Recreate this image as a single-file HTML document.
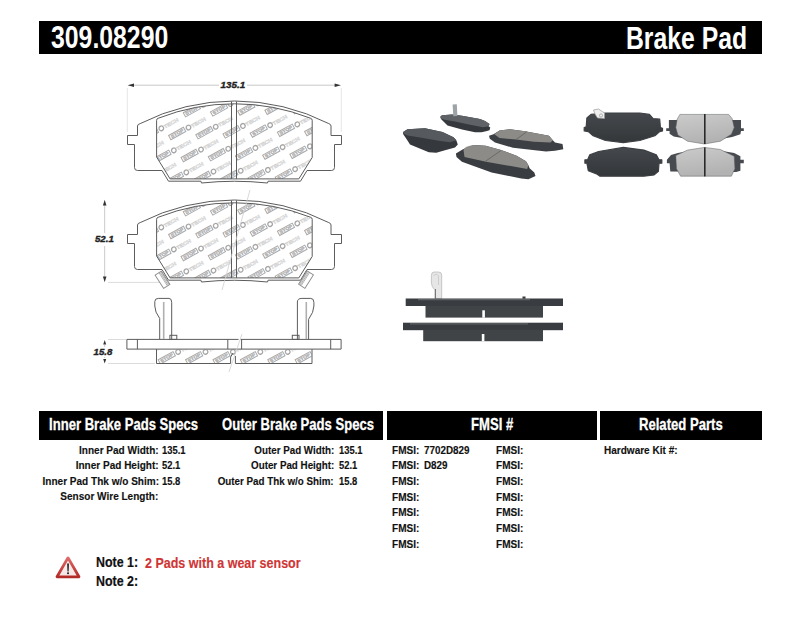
<!DOCTYPE html>
<html><head><meta charset="utf-8">
<style>
html,body{margin:0;padding:0;background:#fff;width:800px;height:619px;overflow:hidden;position:relative;}
body{font-family:"Liberation Sans",sans-serif;font-weight:bold;color:#111;}
.bar{position:absolute;background:#000;}
.t{position:absolute;white-space:pre;transform-origin:0 0;line-height:1;}
.r{position:absolute;white-space:pre;transform-origin:100% 0;line-height:1;text-align:right;}
.w{color:#fff;}
.b{font-size:11.8px;transform:scaleX(0.85);-webkit-text-stroke:0.15px #111;}
.v{transform:scaleX(0.795);}
.ol{transform:scaleX(0.83);}
.fv{transform:scaleX(0.835);}
.h{font-size:17px;top:416px;transform:scaleX(0.77);-webkit-text-stroke:0.3px #fff;}
svg{position:absolute;left:0;top:0;}
</style></head><body>
<!-- drawing -->
<svg width="800" height="619" viewBox="0 0 800 619">
<defs>
<clipPath id="fc0"><path d="M156.6,157 L156.6,120.3 Q156.6,118.6 158.4,118.2 A207.6,207.6 0 0 1 310.4,118.2 Q312.2,118.6 312.2,120.3 L312.2,157.5 L298.8,178.9 L170.1,178.9 Z"/></clipPath>
<clipPath id="fc1"><path d="M156.6,256 L156.6,219.3 Q156.6,217.6 158.4,217.2 A207.6,207.6 0 0 1 310.4,217.2 Q312.2,217.6 312.2,219.3 L312.2,256.5 L298.8,277.9 L170.1,277.9 Z"/></clipPath>
<clipPath id="sc"><rect x="157" y="349.5" width="154.5" height="13.5"/></clipPath>
</defs>
<g stroke="#c8c8c8" stroke-width="1" fill="none"><path d="M133,85.2 L219,85.2 M247,85.2 L336,85.2"/><path d="M127.3,88 L127.3,132 M341.3,88 L341.3,132" stroke="#e6e6e6"/><path d="M104.7,205 L104.7,233 M104.7,246 L104.7,277"/><path d="M108,282.4 L160,282.4" stroke="#dcdcdc"/><path d="M104.7,345 L104.7,347 M104.7,357 L104.7,358" /><path d="M108,339.5 L126,339.5 M108,363.5 L155,363.5" stroke="#dcdcdc"/></g>
<g fill="#333"><path d="M127.6,85.2 L134,83.4 L134,87 Z"/><path d="M341,85.2 L334.6,83.4 L334.6,87 Z"/><path d="M104.7,199.8 L102.9,205.5 L106.5,205.5 Z"/><path d="M104.7,282.2 L102.9,276.5 L106.5,276.5 Z"/><path d="M104.7,340 L103.2,344.5 L106.2,344.5 Z"/><path d="M104.7,363.5 L103.2,359 L106.2,359 Z"/></g>
<g font-family="Liberation Sans" font-weight="bold" font-style="italic" font-size="9" fill="#222" stroke="#222" stroke-width="0.35"><text transform="translate(220.6,88.3) scale(1.09,1)">135.1</text><text transform="translate(95,242.4) scale(1.07,1)">52.1</text><text transform="translate(93.6,355.4) scale(1.07,1)">15.8</text></g>
<g clip-path="url(#fc0)"><g transform="translate(118.7,96.5) rotate(-29)"><rect x="0" y="-4.8" width="17" height="4.8" fill="none" stroke="#a9a9a9" stroke-width="1"/><text x="1.4" y="-1" font-family="Liberation Sans" font-weight="bold" font-size="4.3" fill="#aeaeae" stroke="#aeaeae" stroke-width="0.3" textLength="14.2" lengthAdjust="spacingAndGlyphs">STOP</text><circle cx="21.3" cy="-2.1" r="2.3" fill="none" stroke="#a6a6a6" stroke-width="1.3"/><text x="24.3" y="0" font-family="Liberation Sans" font-size="5" fill="none" stroke="#c8c8c8" stroke-width="0.4" textLength="16" lengthAdjust="spacingAndGlyphs">TECH</text></g><g transform="translate(145.9,95.7) rotate(-29)"><rect x="0" y="-4.8" width="17" height="4.8" fill="none" stroke="#a9a9a9" stroke-width="1"/><text x="1.4" y="-1" font-family="Liberation Sans" font-weight="bold" font-size="4.3" fill="#aeaeae" stroke="#aeaeae" stroke-width="0.3" textLength="14.2" lengthAdjust="spacingAndGlyphs">STOP</text><circle cx="21.3" cy="-2.1" r="2.3" fill="none" stroke="#a6a6a6" stroke-width="1.3"/><text x="24.3" y="0" font-family="Liberation Sans" font-size="5" fill="none" stroke="#c8c8c8" stroke-width="0.4" textLength="16" lengthAdjust="spacingAndGlyphs">TECH</text></g><g transform="translate(173.1,94.9) rotate(-29)"><rect x="0" y="-4.8" width="17" height="4.8" fill="none" stroke="#a9a9a9" stroke-width="1"/><text x="1.4" y="-1" font-family="Liberation Sans" font-weight="bold" font-size="4.3" fill="#aeaeae" stroke="#aeaeae" stroke-width="0.3" textLength="14.2" lengthAdjust="spacingAndGlyphs">STOP</text><circle cx="21.3" cy="-2.1" r="2.3" fill="none" stroke="#a6a6a6" stroke-width="1.3"/><text x="24.3" y="0" font-family="Liberation Sans" font-size="5" fill="none" stroke="#c8c8c8" stroke-width="0.4" textLength="16" lengthAdjust="spacingAndGlyphs">TECH</text></g><g transform="translate(200.3,94.1) rotate(-29)"><rect x="0" y="-4.8" width="17" height="4.8" fill="none" stroke="#a9a9a9" stroke-width="1"/><text x="1.4" y="-1" font-family="Liberation Sans" font-weight="bold" font-size="4.3" fill="#aeaeae" stroke="#aeaeae" stroke-width="0.3" textLength="14.2" lengthAdjust="spacingAndGlyphs">STOP</text><circle cx="21.3" cy="-2.1" r="2.3" fill="none" stroke="#a6a6a6" stroke-width="1.3"/><text x="24.3" y="0" font-family="Liberation Sans" font-size="5" fill="none" stroke="#c8c8c8" stroke-width="0.4" textLength="16" lengthAdjust="spacingAndGlyphs">TECH</text></g><g transform="translate(227.5,93.3) rotate(-29)"><rect x="0" y="-4.8" width="17" height="4.8" fill="none" stroke="#a9a9a9" stroke-width="1"/><text x="1.4" y="-1" font-family="Liberation Sans" font-weight="bold" font-size="4.3" fill="#aeaeae" stroke="#aeaeae" stroke-width="0.3" textLength="14.2" lengthAdjust="spacingAndGlyphs">STOP</text><circle cx="21.3" cy="-2.1" r="2.3" fill="none" stroke="#a6a6a6" stroke-width="1.3"/><text x="24.3" y="0" font-family="Liberation Sans" font-size="5" fill="none" stroke="#c8c8c8" stroke-width="0.4" textLength="16" lengthAdjust="spacingAndGlyphs">TECH</text></g><g transform="translate(254.7,92.5) rotate(-29)"><rect x="0" y="-4.8" width="17" height="4.8" fill="none" stroke="#a9a9a9" stroke-width="1"/><text x="1.4" y="-1" font-family="Liberation Sans" font-weight="bold" font-size="4.3" fill="#aeaeae" stroke="#aeaeae" stroke-width="0.3" textLength="14.2" lengthAdjust="spacingAndGlyphs">STOP</text><circle cx="21.3" cy="-2.1" r="2.3" fill="none" stroke="#a6a6a6" stroke-width="1.3"/><text x="24.3" y="0" font-family="Liberation Sans" font-size="5" fill="none" stroke="#c8c8c8" stroke-width="0.4" textLength="16" lengthAdjust="spacingAndGlyphs">TECH</text></g><g transform="translate(281.9,91.7) rotate(-29)"><rect x="0" y="-4.8" width="17" height="4.8" fill="none" stroke="#a9a9a9" stroke-width="1"/><text x="1.4" y="-1" font-family="Liberation Sans" font-weight="bold" font-size="4.3" fill="#aeaeae" stroke="#aeaeae" stroke-width="0.3" textLength="14.2" lengthAdjust="spacingAndGlyphs">STOP</text><circle cx="21.3" cy="-2.1" r="2.3" fill="none" stroke="#a6a6a6" stroke-width="1.3"/><text x="24.3" y="0" font-family="Liberation Sans" font-size="5" fill="none" stroke="#c8c8c8" stroke-width="0.4" textLength="16" lengthAdjust="spacingAndGlyphs">TECH</text></g><g transform="translate(309.1,90.9) rotate(-29)"><rect x="0" y="-4.8" width="17" height="4.8" fill="none" stroke="#a9a9a9" stroke-width="1"/><text x="1.4" y="-1" font-family="Liberation Sans" font-weight="bold" font-size="4.3" fill="#aeaeae" stroke="#aeaeae" stroke-width="0.3" textLength="14.2" lengthAdjust="spacingAndGlyphs">STOP</text><circle cx="21.3" cy="-2.1" r="2.3" fill="none" stroke="#a6a6a6" stroke-width="1.3"/><text x="24.3" y="0" font-family="Liberation Sans" font-size="5" fill="none" stroke="#c8c8c8" stroke-width="0.4" textLength="16" lengthAdjust="spacingAndGlyphs">TECH</text></g><g transform="translate(131.2,118.5) rotate(-29)"><rect x="0" y="-4.8" width="17" height="4.8" fill="none" stroke="#a9a9a9" stroke-width="1"/><text x="1.4" y="-1" font-family="Liberation Sans" font-weight="bold" font-size="4.3" fill="#aeaeae" stroke="#aeaeae" stroke-width="0.3" textLength="14.2" lengthAdjust="spacingAndGlyphs">STOP</text><circle cx="21.3" cy="-2.1" r="2.3" fill="none" stroke="#a6a6a6" stroke-width="1.3"/><text x="24.3" y="0" font-family="Liberation Sans" font-size="5" fill="none" stroke="#c8c8c8" stroke-width="0.4" textLength="16" lengthAdjust="spacingAndGlyphs">TECH</text></g><g transform="translate(158.4,117.7) rotate(-29)"><rect x="0" y="-4.8" width="17" height="4.8" fill="none" stroke="#a9a9a9" stroke-width="1"/><text x="1.4" y="-1" font-family="Liberation Sans" font-weight="bold" font-size="4.3" fill="#aeaeae" stroke="#aeaeae" stroke-width="0.3" textLength="14.2" lengthAdjust="spacingAndGlyphs">STOP</text><circle cx="21.3" cy="-2.1" r="2.3" fill="none" stroke="#a6a6a6" stroke-width="1.3"/><text x="24.3" y="0" font-family="Liberation Sans" font-size="5" fill="none" stroke="#c8c8c8" stroke-width="0.4" textLength="16" lengthAdjust="spacingAndGlyphs">TECH</text></g><g transform="translate(185.6,116.9) rotate(-29)"><rect x="0" y="-4.8" width="17" height="4.8" fill="none" stroke="#a9a9a9" stroke-width="1"/><text x="1.4" y="-1" font-family="Liberation Sans" font-weight="bold" font-size="4.3" fill="#aeaeae" stroke="#aeaeae" stroke-width="0.3" textLength="14.2" lengthAdjust="spacingAndGlyphs">STOP</text><circle cx="21.3" cy="-2.1" r="2.3" fill="none" stroke="#a6a6a6" stroke-width="1.3"/><text x="24.3" y="0" font-family="Liberation Sans" font-size="5" fill="none" stroke="#c8c8c8" stroke-width="0.4" textLength="16" lengthAdjust="spacingAndGlyphs">TECH</text></g><g transform="translate(212.8,116.1) rotate(-29)"><rect x="0" y="-4.8" width="17" height="4.8" fill="none" stroke="#a9a9a9" stroke-width="1"/><text x="1.4" y="-1" font-family="Liberation Sans" font-weight="bold" font-size="4.3" fill="#aeaeae" stroke="#aeaeae" stroke-width="0.3" textLength="14.2" lengthAdjust="spacingAndGlyphs">STOP</text><circle cx="21.3" cy="-2.1" r="2.3" fill="none" stroke="#a6a6a6" stroke-width="1.3"/><text x="24.3" y="0" font-family="Liberation Sans" font-size="5" fill="none" stroke="#c8c8c8" stroke-width="0.4" textLength="16" lengthAdjust="spacingAndGlyphs">TECH</text></g><g transform="translate(240.0,115.3) rotate(-29)"><rect x="0" y="-4.8" width="17" height="4.8" fill="none" stroke="#a9a9a9" stroke-width="1"/><text x="1.4" y="-1" font-family="Liberation Sans" font-weight="bold" font-size="4.3" fill="#aeaeae" stroke="#aeaeae" stroke-width="0.3" textLength="14.2" lengthAdjust="spacingAndGlyphs">STOP</text><circle cx="21.3" cy="-2.1" r="2.3" fill="none" stroke="#a6a6a6" stroke-width="1.3"/><text x="24.3" y="0" font-family="Liberation Sans" font-size="5" fill="none" stroke="#c8c8c8" stroke-width="0.4" textLength="16" lengthAdjust="spacingAndGlyphs">TECH</text></g><g transform="translate(267.2,114.5) rotate(-29)"><rect x="0" y="-4.8" width="17" height="4.8" fill="none" stroke="#a9a9a9" stroke-width="1"/><text x="1.4" y="-1" font-family="Liberation Sans" font-weight="bold" font-size="4.3" fill="#aeaeae" stroke="#aeaeae" stroke-width="0.3" textLength="14.2" lengthAdjust="spacingAndGlyphs">STOP</text><circle cx="21.3" cy="-2.1" r="2.3" fill="none" stroke="#a6a6a6" stroke-width="1.3"/><text x="24.3" y="0" font-family="Liberation Sans" font-size="5" fill="none" stroke="#c8c8c8" stroke-width="0.4" textLength="16" lengthAdjust="spacingAndGlyphs">TECH</text></g><g transform="translate(294.4,113.7) rotate(-29)"><rect x="0" y="-4.8" width="17" height="4.8" fill="none" stroke="#a9a9a9" stroke-width="1"/><text x="1.4" y="-1" font-family="Liberation Sans" font-weight="bold" font-size="4.3" fill="#aeaeae" stroke="#aeaeae" stroke-width="0.3" textLength="14.2" lengthAdjust="spacingAndGlyphs">STOP</text><circle cx="21.3" cy="-2.1" r="2.3" fill="none" stroke="#a6a6a6" stroke-width="1.3"/><text x="24.3" y="0" font-family="Liberation Sans" font-size="5" fill="none" stroke="#c8c8c8" stroke-width="0.4" textLength="16" lengthAdjust="spacingAndGlyphs">TECH</text></g><g transform="translate(321.6,112.9) rotate(-29)"><rect x="0" y="-4.8" width="17" height="4.8" fill="none" stroke="#a9a9a9" stroke-width="1"/><text x="1.4" y="-1" font-family="Liberation Sans" font-weight="bold" font-size="4.3" fill="#aeaeae" stroke="#aeaeae" stroke-width="0.3" textLength="14.2" lengthAdjust="spacingAndGlyphs">STOP</text><circle cx="21.3" cy="-2.1" r="2.3" fill="none" stroke="#a6a6a6" stroke-width="1.3"/><text x="24.3" y="0" font-family="Liberation Sans" font-size="5" fill="none" stroke="#c8c8c8" stroke-width="0.4" textLength="16" lengthAdjust="spacingAndGlyphs">TECH</text></g><g transform="translate(116.5,141.3) rotate(-29)"><rect x="0" y="-4.8" width="17" height="4.8" fill="none" stroke="#a9a9a9" stroke-width="1"/><text x="1.4" y="-1" font-family="Liberation Sans" font-weight="bold" font-size="4.3" fill="#aeaeae" stroke="#aeaeae" stroke-width="0.3" textLength="14.2" lengthAdjust="spacingAndGlyphs">STOP</text><circle cx="21.3" cy="-2.1" r="2.3" fill="none" stroke="#a6a6a6" stroke-width="1.3"/><text x="24.3" y="0" font-family="Liberation Sans" font-size="5" fill="none" stroke="#c8c8c8" stroke-width="0.4" textLength="16" lengthAdjust="spacingAndGlyphs">TECH</text></g><g transform="translate(143.7,140.5) rotate(-29)"><rect x="0" y="-4.8" width="17" height="4.8" fill="none" stroke="#a9a9a9" stroke-width="1"/><text x="1.4" y="-1" font-family="Liberation Sans" font-weight="bold" font-size="4.3" fill="#aeaeae" stroke="#aeaeae" stroke-width="0.3" textLength="14.2" lengthAdjust="spacingAndGlyphs">STOP</text><circle cx="21.3" cy="-2.1" r="2.3" fill="none" stroke="#a6a6a6" stroke-width="1.3"/><text x="24.3" y="0" font-family="Liberation Sans" font-size="5" fill="none" stroke="#c8c8c8" stroke-width="0.4" textLength="16" lengthAdjust="spacingAndGlyphs">TECH</text></g><g transform="translate(170.9,139.7) rotate(-29)"><rect x="0" y="-4.8" width="17" height="4.8" fill="none" stroke="#a9a9a9" stroke-width="1"/><text x="1.4" y="-1" font-family="Liberation Sans" font-weight="bold" font-size="4.3" fill="#aeaeae" stroke="#aeaeae" stroke-width="0.3" textLength="14.2" lengthAdjust="spacingAndGlyphs">STOP</text><circle cx="21.3" cy="-2.1" r="2.3" fill="none" stroke="#a6a6a6" stroke-width="1.3"/><text x="24.3" y="0" font-family="Liberation Sans" font-size="5" fill="none" stroke="#c8c8c8" stroke-width="0.4" textLength="16" lengthAdjust="spacingAndGlyphs">TECH</text></g><g transform="translate(198.1,138.9) rotate(-29)"><rect x="0" y="-4.8" width="17" height="4.8" fill="none" stroke="#a9a9a9" stroke-width="1"/><text x="1.4" y="-1" font-family="Liberation Sans" font-weight="bold" font-size="4.3" fill="#aeaeae" stroke="#aeaeae" stroke-width="0.3" textLength="14.2" lengthAdjust="spacingAndGlyphs">STOP</text><circle cx="21.3" cy="-2.1" r="2.3" fill="none" stroke="#a6a6a6" stroke-width="1.3"/><text x="24.3" y="0" font-family="Liberation Sans" font-size="5" fill="none" stroke="#c8c8c8" stroke-width="0.4" textLength="16" lengthAdjust="spacingAndGlyphs">TECH</text></g><g transform="translate(225.3,138.1) rotate(-29)"><rect x="0" y="-4.8" width="17" height="4.8" fill="none" stroke="#a9a9a9" stroke-width="1"/><text x="1.4" y="-1" font-family="Liberation Sans" font-weight="bold" font-size="4.3" fill="#aeaeae" stroke="#aeaeae" stroke-width="0.3" textLength="14.2" lengthAdjust="spacingAndGlyphs">STOP</text><circle cx="21.3" cy="-2.1" r="2.3" fill="none" stroke="#a6a6a6" stroke-width="1.3"/><text x="24.3" y="0" font-family="Liberation Sans" font-size="5" fill="none" stroke="#c8c8c8" stroke-width="0.4" textLength="16" lengthAdjust="spacingAndGlyphs">TECH</text></g><g transform="translate(252.5,137.3) rotate(-29)"><rect x="0" y="-4.8" width="17" height="4.8" fill="none" stroke="#a9a9a9" stroke-width="1"/><text x="1.4" y="-1" font-family="Liberation Sans" font-weight="bold" font-size="4.3" fill="#aeaeae" stroke="#aeaeae" stroke-width="0.3" textLength="14.2" lengthAdjust="spacingAndGlyphs">STOP</text><circle cx="21.3" cy="-2.1" r="2.3" fill="none" stroke="#a6a6a6" stroke-width="1.3"/><text x="24.3" y="0" font-family="Liberation Sans" font-size="5" fill="none" stroke="#c8c8c8" stroke-width="0.4" textLength="16" lengthAdjust="spacingAndGlyphs">TECH</text></g><g transform="translate(279.7,136.5) rotate(-29)"><rect x="0" y="-4.8" width="17" height="4.8" fill="none" stroke="#a9a9a9" stroke-width="1"/><text x="1.4" y="-1" font-family="Liberation Sans" font-weight="bold" font-size="4.3" fill="#aeaeae" stroke="#aeaeae" stroke-width="0.3" textLength="14.2" lengthAdjust="spacingAndGlyphs">STOP</text><circle cx="21.3" cy="-2.1" r="2.3" fill="none" stroke="#a6a6a6" stroke-width="1.3"/><text x="24.3" y="0" font-family="Liberation Sans" font-size="5" fill="none" stroke="#c8c8c8" stroke-width="0.4" textLength="16" lengthAdjust="spacingAndGlyphs">TECH</text></g><g transform="translate(306.9,135.7) rotate(-29)"><rect x="0" y="-4.8" width="17" height="4.8" fill="none" stroke="#a9a9a9" stroke-width="1"/><text x="1.4" y="-1" font-family="Liberation Sans" font-weight="bold" font-size="4.3" fill="#aeaeae" stroke="#aeaeae" stroke-width="0.3" textLength="14.2" lengthAdjust="spacingAndGlyphs">STOP</text><circle cx="21.3" cy="-2.1" r="2.3" fill="none" stroke="#a6a6a6" stroke-width="1.3"/><text x="24.3" y="0" font-family="Liberation Sans" font-size="5" fill="none" stroke="#c8c8c8" stroke-width="0.4" textLength="16" lengthAdjust="spacingAndGlyphs">TECH</text></g><g transform="translate(129.0,163.3) rotate(-29)"><rect x="0" y="-4.8" width="17" height="4.8" fill="none" stroke="#a9a9a9" stroke-width="1"/><text x="1.4" y="-1" font-family="Liberation Sans" font-weight="bold" font-size="4.3" fill="#aeaeae" stroke="#aeaeae" stroke-width="0.3" textLength="14.2" lengthAdjust="spacingAndGlyphs">STOP</text><circle cx="21.3" cy="-2.1" r="2.3" fill="none" stroke="#a6a6a6" stroke-width="1.3"/><text x="24.3" y="0" font-family="Liberation Sans" font-size="5" fill="none" stroke="#c8c8c8" stroke-width="0.4" textLength="16" lengthAdjust="spacingAndGlyphs">TECH</text></g><g transform="translate(156.2,162.5) rotate(-29)"><rect x="0" y="-4.8" width="17" height="4.8" fill="none" stroke="#a9a9a9" stroke-width="1"/><text x="1.4" y="-1" font-family="Liberation Sans" font-weight="bold" font-size="4.3" fill="#aeaeae" stroke="#aeaeae" stroke-width="0.3" textLength="14.2" lengthAdjust="spacingAndGlyphs">STOP</text><circle cx="21.3" cy="-2.1" r="2.3" fill="none" stroke="#a6a6a6" stroke-width="1.3"/><text x="24.3" y="0" font-family="Liberation Sans" font-size="5" fill="none" stroke="#c8c8c8" stroke-width="0.4" textLength="16" lengthAdjust="spacingAndGlyphs">TECH</text></g><g transform="translate(183.4,161.7) rotate(-29)"><rect x="0" y="-4.8" width="17" height="4.8" fill="none" stroke="#a9a9a9" stroke-width="1"/><text x="1.4" y="-1" font-family="Liberation Sans" font-weight="bold" font-size="4.3" fill="#aeaeae" stroke="#aeaeae" stroke-width="0.3" textLength="14.2" lengthAdjust="spacingAndGlyphs">STOP</text><circle cx="21.3" cy="-2.1" r="2.3" fill="none" stroke="#a6a6a6" stroke-width="1.3"/><text x="24.3" y="0" font-family="Liberation Sans" font-size="5" fill="none" stroke="#c8c8c8" stroke-width="0.4" textLength="16" lengthAdjust="spacingAndGlyphs">TECH</text></g><g transform="translate(210.6,160.9) rotate(-29)"><rect x="0" y="-4.8" width="17" height="4.8" fill="none" stroke="#a9a9a9" stroke-width="1"/><text x="1.4" y="-1" font-family="Liberation Sans" font-weight="bold" font-size="4.3" fill="#aeaeae" stroke="#aeaeae" stroke-width="0.3" textLength="14.2" lengthAdjust="spacingAndGlyphs">STOP</text><circle cx="21.3" cy="-2.1" r="2.3" fill="none" stroke="#a6a6a6" stroke-width="1.3"/><text x="24.3" y="0" font-family="Liberation Sans" font-size="5" fill="none" stroke="#c8c8c8" stroke-width="0.4" textLength="16" lengthAdjust="spacingAndGlyphs">TECH</text></g><g transform="translate(237.8,160.1) rotate(-29)"><rect x="0" y="-4.8" width="17" height="4.8" fill="none" stroke="#a9a9a9" stroke-width="1"/><text x="1.4" y="-1" font-family="Liberation Sans" font-weight="bold" font-size="4.3" fill="#aeaeae" stroke="#aeaeae" stroke-width="0.3" textLength="14.2" lengthAdjust="spacingAndGlyphs">STOP</text><circle cx="21.3" cy="-2.1" r="2.3" fill="none" stroke="#a6a6a6" stroke-width="1.3"/><text x="24.3" y="0" font-family="Liberation Sans" font-size="5" fill="none" stroke="#c8c8c8" stroke-width="0.4" textLength="16" lengthAdjust="spacingAndGlyphs">TECH</text></g><g transform="translate(265.0,159.3) rotate(-29)"><rect x="0" y="-4.8" width="17" height="4.8" fill="none" stroke="#a9a9a9" stroke-width="1"/><text x="1.4" y="-1" font-family="Liberation Sans" font-weight="bold" font-size="4.3" fill="#aeaeae" stroke="#aeaeae" stroke-width="0.3" textLength="14.2" lengthAdjust="spacingAndGlyphs">STOP</text><circle cx="21.3" cy="-2.1" r="2.3" fill="none" stroke="#a6a6a6" stroke-width="1.3"/><text x="24.3" y="0" font-family="Liberation Sans" font-size="5" fill="none" stroke="#c8c8c8" stroke-width="0.4" textLength="16" lengthAdjust="spacingAndGlyphs">TECH</text></g><g transform="translate(292.2,158.5) rotate(-29)"><rect x="0" y="-4.8" width="17" height="4.8" fill="none" stroke="#a9a9a9" stroke-width="1"/><text x="1.4" y="-1" font-family="Liberation Sans" font-weight="bold" font-size="4.3" fill="#aeaeae" stroke="#aeaeae" stroke-width="0.3" textLength="14.2" lengthAdjust="spacingAndGlyphs">STOP</text><circle cx="21.3" cy="-2.1" r="2.3" fill="none" stroke="#a6a6a6" stroke-width="1.3"/><text x="24.3" y="0" font-family="Liberation Sans" font-size="5" fill="none" stroke="#c8c8c8" stroke-width="0.4" textLength="16" lengthAdjust="spacingAndGlyphs">TECH</text></g><g transform="translate(319.4,157.7) rotate(-29)"><rect x="0" y="-4.8" width="17" height="4.8" fill="none" stroke="#a9a9a9" stroke-width="1"/><text x="1.4" y="-1" font-family="Liberation Sans" font-weight="bold" font-size="4.3" fill="#aeaeae" stroke="#aeaeae" stroke-width="0.3" textLength="14.2" lengthAdjust="spacingAndGlyphs">STOP</text><circle cx="21.3" cy="-2.1" r="2.3" fill="none" stroke="#a6a6a6" stroke-width="1.3"/><text x="24.3" y="0" font-family="Liberation Sans" font-size="5" fill="none" stroke="#c8c8c8" stroke-width="0.4" textLength="16" lengthAdjust="spacingAndGlyphs">TECH</text></g><g transform="translate(114.3,186.1) rotate(-29)"><rect x="0" y="-4.8" width="17" height="4.8" fill="none" stroke="#a9a9a9" stroke-width="1"/><text x="1.4" y="-1" font-family="Liberation Sans" font-weight="bold" font-size="4.3" fill="#aeaeae" stroke="#aeaeae" stroke-width="0.3" textLength="14.2" lengthAdjust="spacingAndGlyphs">STOP</text><circle cx="21.3" cy="-2.1" r="2.3" fill="none" stroke="#a6a6a6" stroke-width="1.3"/><text x="24.3" y="0" font-family="Liberation Sans" font-size="5" fill="none" stroke="#c8c8c8" stroke-width="0.4" textLength="16" lengthAdjust="spacingAndGlyphs">TECH</text></g><g transform="translate(141.5,185.3) rotate(-29)"><rect x="0" y="-4.8" width="17" height="4.8" fill="none" stroke="#a9a9a9" stroke-width="1"/><text x="1.4" y="-1" font-family="Liberation Sans" font-weight="bold" font-size="4.3" fill="#aeaeae" stroke="#aeaeae" stroke-width="0.3" textLength="14.2" lengthAdjust="spacingAndGlyphs">STOP</text><circle cx="21.3" cy="-2.1" r="2.3" fill="none" stroke="#a6a6a6" stroke-width="1.3"/><text x="24.3" y="0" font-family="Liberation Sans" font-size="5" fill="none" stroke="#c8c8c8" stroke-width="0.4" textLength="16" lengthAdjust="spacingAndGlyphs">TECH</text></g><g transform="translate(168.7,184.5) rotate(-29)"><rect x="0" y="-4.8" width="17" height="4.8" fill="none" stroke="#a9a9a9" stroke-width="1"/><text x="1.4" y="-1" font-family="Liberation Sans" font-weight="bold" font-size="4.3" fill="#aeaeae" stroke="#aeaeae" stroke-width="0.3" textLength="14.2" lengthAdjust="spacingAndGlyphs">STOP</text><circle cx="21.3" cy="-2.1" r="2.3" fill="none" stroke="#a6a6a6" stroke-width="1.3"/><text x="24.3" y="0" font-family="Liberation Sans" font-size="5" fill="none" stroke="#c8c8c8" stroke-width="0.4" textLength="16" lengthAdjust="spacingAndGlyphs">TECH</text></g><g transform="translate(195.9,183.7) rotate(-29)"><rect x="0" y="-4.8" width="17" height="4.8" fill="none" stroke="#a9a9a9" stroke-width="1"/><text x="1.4" y="-1" font-family="Liberation Sans" font-weight="bold" font-size="4.3" fill="#aeaeae" stroke="#aeaeae" stroke-width="0.3" textLength="14.2" lengthAdjust="spacingAndGlyphs">STOP</text><circle cx="21.3" cy="-2.1" r="2.3" fill="none" stroke="#a6a6a6" stroke-width="1.3"/><text x="24.3" y="0" font-family="Liberation Sans" font-size="5" fill="none" stroke="#c8c8c8" stroke-width="0.4" textLength="16" lengthAdjust="spacingAndGlyphs">TECH</text></g><g transform="translate(223.1,182.9) rotate(-29)"><rect x="0" y="-4.8" width="17" height="4.8" fill="none" stroke="#a9a9a9" stroke-width="1"/><text x="1.4" y="-1" font-family="Liberation Sans" font-weight="bold" font-size="4.3" fill="#aeaeae" stroke="#aeaeae" stroke-width="0.3" textLength="14.2" lengthAdjust="spacingAndGlyphs">STOP</text><circle cx="21.3" cy="-2.1" r="2.3" fill="none" stroke="#a6a6a6" stroke-width="1.3"/><text x="24.3" y="0" font-family="Liberation Sans" font-size="5" fill="none" stroke="#c8c8c8" stroke-width="0.4" textLength="16" lengthAdjust="spacingAndGlyphs">TECH</text></g><g transform="translate(250.3,182.1) rotate(-29)"><rect x="0" y="-4.8" width="17" height="4.8" fill="none" stroke="#a9a9a9" stroke-width="1"/><text x="1.4" y="-1" font-family="Liberation Sans" font-weight="bold" font-size="4.3" fill="#aeaeae" stroke="#aeaeae" stroke-width="0.3" textLength="14.2" lengthAdjust="spacingAndGlyphs">STOP</text><circle cx="21.3" cy="-2.1" r="2.3" fill="none" stroke="#a6a6a6" stroke-width="1.3"/><text x="24.3" y="0" font-family="Liberation Sans" font-size="5" fill="none" stroke="#c8c8c8" stroke-width="0.4" textLength="16" lengthAdjust="spacingAndGlyphs">TECH</text></g><g transform="translate(277.5,181.3) rotate(-29)"><rect x="0" y="-4.8" width="17" height="4.8" fill="none" stroke="#a9a9a9" stroke-width="1"/><text x="1.4" y="-1" font-family="Liberation Sans" font-weight="bold" font-size="4.3" fill="#aeaeae" stroke="#aeaeae" stroke-width="0.3" textLength="14.2" lengthAdjust="spacingAndGlyphs">STOP</text><circle cx="21.3" cy="-2.1" r="2.3" fill="none" stroke="#a6a6a6" stroke-width="1.3"/><text x="24.3" y="0" font-family="Liberation Sans" font-size="5" fill="none" stroke="#c8c8c8" stroke-width="0.4" textLength="16" lengthAdjust="spacingAndGlyphs">TECH</text></g><g transform="translate(304.7,180.5) rotate(-29)"><rect x="0" y="-4.8" width="17" height="4.8" fill="none" stroke="#a9a9a9" stroke-width="1"/><text x="1.4" y="-1" font-family="Liberation Sans" font-weight="bold" font-size="4.3" fill="#aeaeae" stroke="#aeaeae" stroke-width="0.3" textLength="14.2" lengthAdjust="spacingAndGlyphs">STOP</text><circle cx="21.3" cy="-2.1" r="2.3" fill="none" stroke="#a6a6a6" stroke-width="1.3"/><text x="24.3" y="0" font-family="Liberation Sans" font-size="5" fill="none" stroke="#c8c8c8" stroke-width="0.4" textLength="16" lengthAdjust="spacingAndGlyphs">TECH</text></g><g transform="translate(126.8,208.1) rotate(-29)"><rect x="0" y="-4.8" width="17" height="4.8" fill="none" stroke="#a9a9a9" stroke-width="1"/><text x="1.4" y="-1" font-family="Liberation Sans" font-weight="bold" font-size="4.3" fill="#aeaeae" stroke="#aeaeae" stroke-width="0.3" textLength="14.2" lengthAdjust="spacingAndGlyphs">STOP</text><circle cx="21.3" cy="-2.1" r="2.3" fill="none" stroke="#a6a6a6" stroke-width="1.3"/><text x="24.3" y="0" font-family="Liberation Sans" font-size="5" fill="none" stroke="#c8c8c8" stroke-width="0.4" textLength="16" lengthAdjust="spacingAndGlyphs">TECH</text></g><g transform="translate(154.0,207.3) rotate(-29)"><rect x="0" y="-4.8" width="17" height="4.8" fill="none" stroke="#a9a9a9" stroke-width="1"/><text x="1.4" y="-1" font-family="Liberation Sans" font-weight="bold" font-size="4.3" fill="#aeaeae" stroke="#aeaeae" stroke-width="0.3" textLength="14.2" lengthAdjust="spacingAndGlyphs">STOP</text><circle cx="21.3" cy="-2.1" r="2.3" fill="none" stroke="#a6a6a6" stroke-width="1.3"/><text x="24.3" y="0" font-family="Liberation Sans" font-size="5" fill="none" stroke="#c8c8c8" stroke-width="0.4" textLength="16" lengthAdjust="spacingAndGlyphs">TECH</text></g><g transform="translate(181.2,206.5) rotate(-29)"><rect x="0" y="-4.8" width="17" height="4.8" fill="none" stroke="#a9a9a9" stroke-width="1"/><text x="1.4" y="-1" font-family="Liberation Sans" font-weight="bold" font-size="4.3" fill="#aeaeae" stroke="#aeaeae" stroke-width="0.3" textLength="14.2" lengthAdjust="spacingAndGlyphs">STOP</text><circle cx="21.3" cy="-2.1" r="2.3" fill="none" stroke="#a6a6a6" stroke-width="1.3"/><text x="24.3" y="0" font-family="Liberation Sans" font-size="5" fill="none" stroke="#c8c8c8" stroke-width="0.4" textLength="16" lengthAdjust="spacingAndGlyphs">TECH</text></g><g transform="translate(208.4,205.7) rotate(-29)"><rect x="0" y="-4.8" width="17" height="4.8" fill="none" stroke="#a9a9a9" stroke-width="1"/><text x="1.4" y="-1" font-family="Liberation Sans" font-weight="bold" font-size="4.3" fill="#aeaeae" stroke="#aeaeae" stroke-width="0.3" textLength="14.2" lengthAdjust="spacingAndGlyphs">STOP</text><circle cx="21.3" cy="-2.1" r="2.3" fill="none" stroke="#a6a6a6" stroke-width="1.3"/><text x="24.3" y="0" font-family="Liberation Sans" font-size="5" fill="none" stroke="#c8c8c8" stroke-width="0.4" textLength="16" lengthAdjust="spacingAndGlyphs">TECH</text></g><g transform="translate(235.6,204.9) rotate(-29)"><rect x="0" y="-4.8" width="17" height="4.8" fill="none" stroke="#a9a9a9" stroke-width="1"/><text x="1.4" y="-1" font-family="Liberation Sans" font-weight="bold" font-size="4.3" fill="#aeaeae" stroke="#aeaeae" stroke-width="0.3" textLength="14.2" lengthAdjust="spacingAndGlyphs">STOP</text><circle cx="21.3" cy="-2.1" r="2.3" fill="none" stroke="#a6a6a6" stroke-width="1.3"/><text x="24.3" y="0" font-family="Liberation Sans" font-size="5" fill="none" stroke="#c8c8c8" stroke-width="0.4" textLength="16" lengthAdjust="spacingAndGlyphs">TECH</text></g><g transform="translate(262.8,204.1) rotate(-29)"><rect x="0" y="-4.8" width="17" height="4.8" fill="none" stroke="#a9a9a9" stroke-width="1"/><text x="1.4" y="-1" font-family="Liberation Sans" font-weight="bold" font-size="4.3" fill="#aeaeae" stroke="#aeaeae" stroke-width="0.3" textLength="14.2" lengthAdjust="spacingAndGlyphs">STOP</text><circle cx="21.3" cy="-2.1" r="2.3" fill="none" stroke="#a6a6a6" stroke-width="1.3"/><text x="24.3" y="0" font-family="Liberation Sans" font-size="5" fill="none" stroke="#c8c8c8" stroke-width="0.4" textLength="16" lengthAdjust="spacingAndGlyphs">TECH</text></g><g transform="translate(290.0,203.3) rotate(-29)"><rect x="0" y="-4.8" width="17" height="4.8" fill="none" stroke="#a9a9a9" stroke-width="1"/><text x="1.4" y="-1" font-family="Liberation Sans" font-weight="bold" font-size="4.3" fill="#aeaeae" stroke="#aeaeae" stroke-width="0.3" textLength="14.2" lengthAdjust="spacingAndGlyphs">STOP</text><circle cx="21.3" cy="-2.1" r="2.3" fill="none" stroke="#a6a6a6" stroke-width="1.3"/><text x="24.3" y="0" font-family="Liberation Sans" font-size="5" fill="none" stroke="#c8c8c8" stroke-width="0.4" textLength="16" lengthAdjust="spacingAndGlyphs">TECH</text></g><g transform="translate(317.2,202.5) rotate(-29)"><rect x="0" y="-4.8" width="17" height="4.8" fill="none" stroke="#a9a9a9" stroke-width="1"/><text x="1.4" y="-1" font-family="Liberation Sans" font-weight="bold" font-size="4.3" fill="#aeaeae" stroke="#aeaeae" stroke-width="0.3" textLength="14.2" lengthAdjust="spacingAndGlyphs">STOP</text><circle cx="21.3" cy="-2.1" r="2.3" fill="none" stroke="#a6a6a6" stroke-width="1.3"/><text x="24.3" y="0" font-family="Liberation Sans" font-size="5" fill="none" stroke="#c8c8c8" stroke-width="0.4" textLength="16" lengthAdjust="spacingAndGlyphs">TECH</text></g></g>
<g fill="none" stroke="#5c5c5c" stroke-width="1"><path d="M137.5,126 L137.5,135.5 L127.5,135.5 L127.5,144.5 L134.5,144.5 L134.5,167.5 Q134.5,170.5 137.5,170.5 L162,170.5 L168.5,181.2 L200.9,181.2 L201.5,183 Q234.5,179.5 267.5,183 L268.1,181.2 L300.5,181.2 L307,170.5 L331.5,170.5 Q334.5,170.5 334.5,167.5 L334.5,144.5 L341.5,144.5 L341.5,135.5 L331,135.5 L331,126 Q331,124.3 328.8,123.6 A208,208 0 0 0 140.2,123.6 Q137.5,124.3 137.5,126 Z"/><path d="M156.6,157 L156.6,120.3 Q156.6,118.6 158.4,118.2 A207.6,207.6 0 0 1 310.4,118.2 Q312.2,118.6 312.2,120.3 L312.2,157.5 L298.8,178.9 L170.1,178.9 Z"/><path d="M231.5,101.5 L231.5,178.9 M236.5,101.5 L236.5,178.9"/></g>
<g clip-path="url(#fc1)"><g transform="translate(118.7,195.5) rotate(-29)"><rect x="0" y="-4.8" width="17" height="4.8" fill="none" stroke="#a9a9a9" stroke-width="1"/><text x="1.4" y="-1" font-family="Liberation Sans" font-weight="bold" font-size="4.3" fill="#aeaeae" stroke="#aeaeae" stroke-width="0.3" textLength="14.2" lengthAdjust="spacingAndGlyphs">STOP</text><circle cx="21.3" cy="-2.1" r="2.3" fill="none" stroke="#a6a6a6" stroke-width="1.3"/><text x="24.3" y="0" font-family="Liberation Sans" font-size="5" fill="none" stroke="#c8c8c8" stroke-width="0.4" textLength="16" lengthAdjust="spacingAndGlyphs">TECH</text></g><g transform="translate(145.9,194.7) rotate(-29)"><rect x="0" y="-4.8" width="17" height="4.8" fill="none" stroke="#a9a9a9" stroke-width="1"/><text x="1.4" y="-1" font-family="Liberation Sans" font-weight="bold" font-size="4.3" fill="#aeaeae" stroke="#aeaeae" stroke-width="0.3" textLength="14.2" lengthAdjust="spacingAndGlyphs">STOP</text><circle cx="21.3" cy="-2.1" r="2.3" fill="none" stroke="#a6a6a6" stroke-width="1.3"/><text x="24.3" y="0" font-family="Liberation Sans" font-size="5" fill="none" stroke="#c8c8c8" stroke-width="0.4" textLength="16" lengthAdjust="spacingAndGlyphs">TECH</text></g><g transform="translate(173.1,193.9) rotate(-29)"><rect x="0" y="-4.8" width="17" height="4.8" fill="none" stroke="#a9a9a9" stroke-width="1"/><text x="1.4" y="-1" font-family="Liberation Sans" font-weight="bold" font-size="4.3" fill="#aeaeae" stroke="#aeaeae" stroke-width="0.3" textLength="14.2" lengthAdjust="spacingAndGlyphs">STOP</text><circle cx="21.3" cy="-2.1" r="2.3" fill="none" stroke="#a6a6a6" stroke-width="1.3"/><text x="24.3" y="0" font-family="Liberation Sans" font-size="5" fill="none" stroke="#c8c8c8" stroke-width="0.4" textLength="16" lengthAdjust="spacingAndGlyphs">TECH</text></g><g transform="translate(200.3,193.1) rotate(-29)"><rect x="0" y="-4.8" width="17" height="4.8" fill="none" stroke="#a9a9a9" stroke-width="1"/><text x="1.4" y="-1" font-family="Liberation Sans" font-weight="bold" font-size="4.3" fill="#aeaeae" stroke="#aeaeae" stroke-width="0.3" textLength="14.2" lengthAdjust="spacingAndGlyphs">STOP</text><circle cx="21.3" cy="-2.1" r="2.3" fill="none" stroke="#a6a6a6" stroke-width="1.3"/><text x="24.3" y="0" font-family="Liberation Sans" font-size="5" fill="none" stroke="#c8c8c8" stroke-width="0.4" textLength="16" lengthAdjust="spacingAndGlyphs">TECH</text></g><g transform="translate(227.5,192.3) rotate(-29)"><rect x="0" y="-4.8" width="17" height="4.8" fill="none" stroke="#a9a9a9" stroke-width="1"/><text x="1.4" y="-1" font-family="Liberation Sans" font-weight="bold" font-size="4.3" fill="#aeaeae" stroke="#aeaeae" stroke-width="0.3" textLength="14.2" lengthAdjust="spacingAndGlyphs">STOP</text><circle cx="21.3" cy="-2.1" r="2.3" fill="none" stroke="#a6a6a6" stroke-width="1.3"/><text x="24.3" y="0" font-family="Liberation Sans" font-size="5" fill="none" stroke="#c8c8c8" stroke-width="0.4" textLength="16" lengthAdjust="spacingAndGlyphs">TECH</text></g><g transform="translate(254.7,191.5) rotate(-29)"><rect x="0" y="-4.8" width="17" height="4.8" fill="none" stroke="#a9a9a9" stroke-width="1"/><text x="1.4" y="-1" font-family="Liberation Sans" font-weight="bold" font-size="4.3" fill="#aeaeae" stroke="#aeaeae" stroke-width="0.3" textLength="14.2" lengthAdjust="spacingAndGlyphs">STOP</text><circle cx="21.3" cy="-2.1" r="2.3" fill="none" stroke="#a6a6a6" stroke-width="1.3"/><text x="24.3" y="0" font-family="Liberation Sans" font-size="5" fill="none" stroke="#c8c8c8" stroke-width="0.4" textLength="16" lengthAdjust="spacingAndGlyphs">TECH</text></g><g transform="translate(281.9,190.7) rotate(-29)"><rect x="0" y="-4.8" width="17" height="4.8" fill="none" stroke="#a9a9a9" stroke-width="1"/><text x="1.4" y="-1" font-family="Liberation Sans" font-weight="bold" font-size="4.3" fill="#aeaeae" stroke="#aeaeae" stroke-width="0.3" textLength="14.2" lengthAdjust="spacingAndGlyphs">STOP</text><circle cx="21.3" cy="-2.1" r="2.3" fill="none" stroke="#a6a6a6" stroke-width="1.3"/><text x="24.3" y="0" font-family="Liberation Sans" font-size="5" fill="none" stroke="#c8c8c8" stroke-width="0.4" textLength="16" lengthAdjust="spacingAndGlyphs">TECH</text></g><g transform="translate(309.1,189.9) rotate(-29)"><rect x="0" y="-4.8" width="17" height="4.8" fill="none" stroke="#a9a9a9" stroke-width="1"/><text x="1.4" y="-1" font-family="Liberation Sans" font-weight="bold" font-size="4.3" fill="#aeaeae" stroke="#aeaeae" stroke-width="0.3" textLength="14.2" lengthAdjust="spacingAndGlyphs">STOP</text><circle cx="21.3" cy="-2.1" r="2.3" fill="none" stroke="#a6a6a6" stroke-width="1.3"/><text x="24.3" y="0" font-family="Liberation Sans" font-size="5" fill="none" stroke="#c8c8c8" stroke-width="0.4" textLength="16" lengthAdjust="spacingAndGlyphs">TECH</text></g><g transform="translate(131.2,217.5) rotate(-29)"><rect x="0" y="-4.8" width="17" height="4.8" fill="none" stroke="#a9a9a9" stroke-width="1"/><text x="1.4" y="-1" font-family="Liberation Sans" font-weight="bold" font-size="4.3" fill="#aeaeae" stroke="#aeaeae" stroke-width="0.3" textLength="14.2" lengthAdjust="spacingAndGlyphs">STOP</text><circle cx="21.3" cy="-2.1" r="2.3" fill="none" stroke="#a6a6a6" stroke-width="1.3"/><text x="24.3" y="0" font-family="Liberation Sans" font-size="5" fill="none" stroke="#c8c8c8" stroke-width="0.4" textLength="16" lengthAdjust="spacingAndGlyphs">TECH</text></g><g transform="translate(158.4,216.7) rotate(-29)"><rect x="0" y="-4.8" width="17" height="4.8" fill="none" stroke="#a9a9a9" stroke-width="1"/><text x="1.4" y="-1" font-family="Liberation Sans" font-weight="bold" font-size="4.3" fill="#aeaeae" stroke="#aeaeae" stroke-width="0.3" textLength="14.2" lengthAdjust="spacingAndGlyphs">STOP</text><circle cx="21.3" cy="-2.1" r="2.3" fill="none" stroke="#a6a6a6" stroke-width="1.3"/><text x="24.3" y="0" font-family="Liberation Sans" font-size="5" fill="none" stroke="#c8c8c8" stroke-width="0.4" textLength="16" lengthAdjust="spacingAndGlyphs">TECH</text></g><g transform="translate(185.6,215.9) rotate(-29)"><rect x="0" y="-4.8" width="17" height="4.8" fill="none" stroke="#a9a9a9" stroke-width="1"/><text x="1.4" y="-1" font-family="Liberation Sans" font-weight="bold" font-size="4.3" fill="#aeaeae" stroke="#aeaeae" stroke-width="0.3" textLength="14.2" lengthAdjust="spacingAndGlyphs">STOP</text><circle cx="21.3" cy="-2.1" r="2.3" fill="none" stroke="#a6a6a6" stroke-width="1.3"/><text x="24.3" y="0" font-family="Liberation Sans" font-size="5" fill="none" stroke="#c8c8c8" stroke-width="0.4" textLength="16" lengthAdjust="spacingAndGlyphs">TECH</text></g><g transform="translate(212.8,215.1) rotate(-29)"><rect x="0" y="-4.8" width="17" height="4.8" fill="none" stroke="#a9a9a9" stroke-width="1"/><text x="1.4" y="-1" font-family="Liberation Sans" font-weight="bold" font-size="4.3" fill="#aeaeae" stroke="#aeaeae" stroke-width="0.3" textLength="14.2" lengthAdjust="spacingAndGlyphs">STOP</text><circle cx="21.3" cy="-2.1" r="2.3" fill="none" stroke="#a6a6a6" stroke-width="1.3"/><text x="24.3" y="0" font-family="Liberation Sans" font-size="5" fill="none" stroke="#c8c8c8" stroke-width="0.4" textLength="16" lengthAdjust="spacingAndGlyphs">TECH</text></g><g transform="translate(240.0,214.3) rotate(-29)"><rect x="0" y="-4.8" width="17" height="4.8" fill="none" stroke="#a9a9a9" stroke-width="1"/><text x="1.4" y="-1" font-family="Liberation Sans" font-weight="bold" font-size="4.3" fill="#aeaeae" stroke="#aeaeae" stroke-width="0.3" textLength="14.2" lengthAdjust="spacingAndGlyphs">STOP</text><circle cx="21.3" cy="-2.1" r="2.3" fill="none" stroke="#a6a6a6" stroke-width="1.3"/><text x="24.3" y="0" font-family="Liberation Sans" font-size="5" fill="none" stroke="#c8c8c8" stroke-width="0.4" textLength="16" lengthAdjust="spacingAndGlyphs">TECH</text></g><g transform="translate(267.2,213.5) rotate(-29)"><rect x="0" y="-4.8" width="17" height="4.8" fill="none" stroke="#a9a9a9" stroke-width="1"/><text x="1.4" y="-1" font-family="Liberation Sans" font-weight="bold" font-size="4.3" fill="#aeaeae" stroke="#aeaeae" stroke-width="0.3" textLength="14.2" lengthAdjust="spacingAndGlyphs">STOP</text><circle cx="21.3" cy="-2.1" r="2.3" fill="none" stroke="#a6a6a6" stroke-width="1.3"/><text x="24.3" y="0" font-family="Liberation Sans" font-size="5" fill="none" stroke="#c8c8c8" stroke-width="0.4" textLength="16" lengthAdjust="spacingAndGlyphs">TECH</text></g><g transform="translate(294.4,212.7) rotate(-29)"><rect x="0" y="-4.8" width="17" height="4.8" fill="none" stroke="#a9a9a9" stroke-width="1"/><text x="1.4" y="-1" font-family="Liberation Sans" font-weight="bold" font-size="4.3" fill="#aeaeae" stroke="#aeaeae" stroke-width="0.3" textLength="14.2" lengthAdjust="spacingAndGlyphs">STOP</text><circle cx="21.3" cy="-2.1" r="2.3" fill="none" stroke="#a6a6a6" stroke-width="1.3"/><text x="24.3" y="0" font-family="Liberation Sans" font-size="5" fill="none" stroke="#c8c8c8" stroke-width="0.4" textLength="16" lengthAdjust="spacingAndGlyphs">TECH</text></g><g transform="translate(321.6,211.9) rotate(-29)"><rect x="0" y="-4.8" width="17" height="4.8" fill="none" stroke="#a9a9a9" stroke-width="1"/><text x="1.4" y="-1" font-family="Liberation Sans" font-weight="bold" font-size="4.3" fill="#aeaeae" stroke="#aeaeae" stroke-width="0.3" textLength="14.2" lengthAdjust="spacingAndGlyphs">STOP</text><circle cx="21.3" cy="-2.1" r="2.3" fill="none" stroke="#a6a6a6" stroke-width="1.3"/><text x="24.3" y="0" font-family="Liberation Sans" font-size="5" fill="none" stroke="#c8c8c8" stroke-width="0.4" textLength="16" lengthAdjust="spacingAndGlyphs">TECH</text></g><g transform="translate(116.5,240.3) rotate(-29)"><rect x="0" y="-4.8" width="17" height="4.8" fill="none" stroke="#a9a9a9" stroke-width="1"/><text x="1.4" y="-1" font-family="Liberation Sans" font-weight="bold" font-size="4.3" fill="#aeaeae" stroke="#aeaeae" stroke-width="0.3" textLength="14.2" lengthAdjust="spacingAndGlyphs">STOP</text><circle cx="21.3" cy="-2.1" r="2.3" fill="none" stroke="#a6a6a6" stroke-width="1.3"/><text x="24.3" y="0" font-family="Liberation Sans" font-size="5" fill="none" stroke="#c8c8c8" stroke-width="0.4" textLength="16" lengthAdjust="spacingAndGlyphs">TECH</text></g><g transform="translate(143.7,239.5) rotate(-29)"><rect x="0" y="-4.8" width="17" height="4.8" fill="none" stroke="#a9a9a9" stroke-width="1"/><text x="1.4" y="-1" font-family="Liberation Sans" font-weight="bold" font-size="4.3" fill="#aeaeae" stroke="#aeaeae" stroke-width="0.3" textLength="14.2" lengthAdjust="spacingAndGlyphs">STOP</text><circle cx="21.3" cy="-2.1" r="2.3" fill="none" stroke="#a6a6a6" stroke-width="1.3"/><text x="24.3" y="0" font-family="Liberation Sans" font-size="5" fill="none" stroke="#c8c8c8" stroke-width="0.4" textLength="16" lengthAdjust="spacingAndGlyphs">TECH</text></g><g transform="translate(170.9,238.7) rotate(-29)"><rect x="0" y="-4.8" width="17" height="4.8" fill="none" stroke="#a9a9a9" stroke-width="1"/><text x="1.4" y="-1" font-family="Liberation Sans" font-weight="bold" font-size="4.3" fill="#aeaeae" stroke="#aeaeae" stroke-width="0.3" textLength="14.2" lengthAdjust="spacingAndGlyphs">STOP</text><circle cx="21.3" cy="-2.1" r="2.3" fill="none" stroke="#a6a6a6" stroke-width="1.3"/><text x="24.3" y="0" font-family="Liberation Sans" font-size="5" fill="none" stroke="#c8c8c8" stroke-width="0.4" textLength="16" lengthAdjust="spacingAndGlyphs">TECH</text></g><g transform="translate(198.1,237.9) rotate(-29)"><rect x="0" y="-4.8" width="17" height="4.8" fill="none" stroke="#a9a9a9" stroke-width="1"/><text x="1.4" y="-1" font-family="Liberation Sans" font-weight="bold" font-size="4.3" fill="#aeaeae" stroke="#aeaeae" stroke-width="0.3" textLength="14.2" lengthAdjust="spacingAndGlyphs">STOP</text><circle cx="21.3" cy="-2.1" r="2.3" fill="none" stroke="#a6a6a6" stroke-width="1.3"/><text x="24.3" y="0" font-family="Liberation Sans" font-size="5" fill="none" stroke="#c8c8c8" stroke-width="0.4" textLength="16" lengthAdjust="spacingAndGlyphs">TECH</text></g><g transform="translate(225.3,237.1) rotate(-29)"><rect x="0" y="-4.8" width="17" height="4.8" fill="none" stroke="#a9a9a9" stroke-width="1"/><text x="1.4" y="-1" font-family="Liberation Sans" font-weight="bold" font-size="4.3" fill="#aeaeae" stroke="#aeaeae" stroke-width="0.3" textLength="14.2" lengthAdjust="spacingAndGlyphs">STOP</text><circle cx="21.3" cy="-2.1" r="2.3" fill="none" stroke="#a6a6a6" stroke-width="1.3"/><text x="24.3" y="0" font-family="Liberation Sans" font-size="5" fill="none" stroke="#c8c8c8" stroke-width="0.4" textLength="16" lengthAdjust="spacingAndGlyphs">TECH</text></g><g transform="translate(252.5,236.3) rotate(-29)"><rect x="0" y="-4.8" width="17" height="4.8" fill="none" stroke="#a9a9a9" stroke-width="1"/><text x="1.4" y="-1" font-family="Liberation Sans" font-weight="bold" font-size="4.3" fill="#aeaeae" stroke="#aeaeae" stroke-width="0.3" textLength="14.2" lengthAdjust="spacingAndGlyphs">STOP</text><circle cx="21.3" cy="-2.1" r="2.3" fill="none" stroke="#a6a6a6" stroke-width="1.3"/><text x="24.3" y="0" font-family="Liberation Sans" font-size="5" fill="none" stroke="#c8c8c8" stroke-width="0.4" textLength="16" lengthAdjust="spacingAndGlyphs">TECH</text></g><g transform="translate(279.7,235.5) rotate(-29)"><rect x="0" y="-4.8" width="17" height="4.8" fill="none" stroke="#a9a9a9" stroke-width="1"/><text x="1.4" y="-1" font-family="Liberation Sans" font-weight="bold" font-size="4.3" fill="#aeaeae" stroke="#aeaeae" stroke-width="0.3" textLength="14.2" lengthAdjust="spacingAndGlyphs">STOP</text><circle cx="21.3" cy="-2.1" r="2.3" fill="none" stroke="#a6a6a6" stroke-width="1.3"/><text x="24.3" y="0" font-family="Liberation Sans" font-size="5" fill="none" stroke="#c8c8c8" stroke-width="0.4" textLength="16" lengthAdjust="spacingAndGlyphs">TECH</text></g><g transform="translate(306.9,234.7) rotate(-29)"><rect x="0" y="-4.8" width="17" height="4.8" fill="none" stroke="#a9a9a9" stroke-width="1"/><text x="1.4" y="-1" font-family="Liberation Sans" font-weight="bold" font-size="4.3" fill="#aeaeae" stroke="#aeaeae" stroke-width="0.3" textLength="14.2" lengthAdjust="spacingAndGlyphs">STOP</text><circle cx="21.3" cy="-2.1" r="2.3" fill="none" stroke="#a6a6a6" stroke-width="1.3"/><text x="24.3" y="0" font-family="Liberation Sans" font-size="5" fill="none" stroke="#c8c8c8" stroke-width="0.4" textLength="16" lengthAdjust="spacingAndGlyphs">TECH</text></g><g transform="translate(129.0,262.3) rotate(-29)"><rect x="0" y="-4.8" width="17" height="4.8" fill="none" stroke="#a9a9a9" stroke-width="1"/><text x="1.4" y="-1" font-family="Liberation Sans" font-weight="bold" font-size="4.3" fill="#aeaeae" stroke="#aeaeae" stroke-width="0.3" textLength="14.2" lengthAdjust="spacingAndGlyphs">STOP</text><circle cx="21.3" cy="-2.1" r="2.3" fill="none" stroke="#a6a6a6" stroke-width="1.3"/><text x="24.3" y="0" font-family="Liberation Sans" font-size="5" fill="none" stroke="#c8c8c8" stroke-width="0.4" textLength="16" lengthAdjust="spacingAndGlyphs">TECH</text></g><g transform="translate(156.2,261.5) rotate(-29)"><rect x="0" y="-4.8" width="17" height="4.8" fill="none" stroke="#a9a9a9" stroke-width="1"/><text x="1.4" y="-1" font-family="Liberation Sans" font-weight="bold" font-size="4.3" fill="#aeaeae" stroke="#aeaeae" stroke-width="0.3" textLength="14.2" lengthAdjust="spacingAndGlyphs">STOP</text><circle cx="21.3" cy="-2.1" r="2.3" fill="none" stroke="#a6a6a6" stroke-width="1.3"/><text x="24.3" y="0" font-family="Liberation Sans" font-size="5" fill="none" stroke="#c8c8c8" stroke-width="0.4" textLength="16" lengthAdjust="spacingAndGlyphs">TECH</text></g><g transform="translate(183.4,260.7) rotate(-29)"><rect x="0" y="-4.8" width="17" height="4.8" fill="none" stroke="#a9a9a9" stroke-width="1"/><text x="1.4" y="-1" font-family="Liberation Sans" font-weight="bold" font-size="4.3" fill="#aeaeae" stroke="#aeaeae" stroke-width="0.3" textLength="14.2" lengthAdjust="spacingAndGlyphs">STOP</text><circle cx="21.3" cy="-2.1" r="2.3" fill="none" stroke="#a6a6a6" stroke-width="1.3"/><text x="24.3" y="0" font-family="Liberation Sans" font-size="5" fill="none" stroke="#c8c8c8" stroke-width="0.4" textLength="16" lengthAdjust="spacingAndGlyphs">TECH</text></g><g transform="translate(210.6,259.9) rotate(-29)"><rect x="0" y="-4.8" width="17" height="4.8" fill="none" stroke="#a9a9a9" stroke-width="1"/><text x="1.4" y="-1" font-family="Liberation Sans" font-weight="bold" font-size="4.3" fill="#aeaeae" stroke="#aeaeae" stroke-width="0.3" textLength="14.2" lengthAdjust="spacingAndGlyphs">STOP</text><circle cx="21.3" cy="-2.1" r="2.3" fill="none" stroke="#a6a6a6" stroke-width="1.3"/><text x="24.3" y="0" font-family="Liberation Sans" font-size="5" fill="none" stroke="#c8c8c8" stroke-width="0.4" textLength="16" lengthAdjust="spacingAndGlyphs">TECH</text></g><g transform="translate(237.8,259.1) rotate(-29)"><rect x="0" y="-4.8" width="17" height="4.8" fill="none" stroke="#a9a9a9" stroke-width="1"/><text x="1.4" y="-1" font-family="Liberation Sans" font-weight="bold" font-size="4.3" fill="#aeaeae" stroke="#aeaeae" stroke-width="0.3" textLength="14.2" lengthAdjust="spacingAndGlyphs">STOP</text><circle cx="21.3" cy="-2.1" r="2.3" fill="none" stroke="#a6a6a6" stroke-width="1.3"/><text x="24.3" y="0" font-family="Liberation Sans" font-size="5" fill="none" stroke="#c8c8c8" stroke-width="0.4" textLength="16" lengthAdjust="spacingAndGlyphs">TECH</text></g><g transform="translate(265.0,258.3) rotate(-29)"><rect x="0" y="-4.8" width="17" height="4.8" fill="none" stroke="#a9a9a9" stroke-width="1"/><text x="1.4" y="-1" font-family="Liberation Sans" font-weight="bold" font-size="4.3" fill="#aeaeae" stroke="#aeaeae" stroke-width="0.3" textLength="14.2" lengthAdjust="spacingAndGlyphs">STOP</text><circle cx="21.3" cy="-2.1" r="2.3" fill="none" stroke="#a6a6a6" stroke-width="1.3"/><text x="24.3" y="0" font-family="Liberation Sans" font-size="5" fill="none" stroke="#c8c8c8" stroke-width="0.4" textLength="16" lengthAdjust="spacingAndGlyphs">TECH</text></g><g transform="translate(292.2,257.5) rotate(-29)"><rect x="0" y="-4.8" width="17" height="4.8" fill="none" stroke="#a9a9a9" stroke-width="1"/><text x="1.4" y="-1" font-family="Liberation Sans" font-weight="bold" font-size="4.3" fill="#aeaeae" stroke="#aeaeae" stroke-width="0.3" textLength="14.2" lengthAdjust="spacingAndGlyphs">STOP</text><circle cx="21.3" cy="-2.1" r="2.3" fill="none" stroke="#a6a6a6" stroke-width="1.3"/><text x="24.3" y="0" font-family="Liberation Sans" font-size="5" fill="none" stroke="#c8c8c8" stroke-width="0.4" textLength="16" lengthAdjust="spacingAndGlyphs">TECH</text></g><g transform="translate(319.4,256.7) rotate(-29)"><rect x="0" y="-4.8" width="17" height="4.8" fill="none" stroke="#a9a9a9" stroke-width="1"/><text x="1.4" y="-1" font-family="Liberation Sans" font-weight="bold" font-size="4.3" fill="#aeaeae" stroke="#aeaeae" stroke-width="0.3" textLength="14.2" lengthAdjust="spacingAndGlyphs">STOP</text><circle cx="21.3" cy="-2.1" r="2.3" fill="none" stroke="#a6a6a6" stroke-width="1.3"/><text x="24.3" y="0" font-family="Liberation Sans" font-size="5" fill="none" stroke="#c8c8c8" stroke-width="0.4" textLength="16" lengthAdjust="spacingAndGlyphs">TECH</text></g><g transform="translate(114.3,285.1) rotate(-29)"><rect x="0" y="-4.8" width="17" height="4.8" fill="none" stroke="#a9a9a9" stroke-width="1"/><text x="1.4" y="-1" font-family="Liberation Sans" font-weight="bold" font-size="4.3" fill="#aeaeae" stroke="#aeaeae" stroke-width="0.3" textLength="14.2" lengthAdjust="spacingAndGlyphs">STOP</text><circle cx="21.3" cy="-2.1" r="2.3" fill="none" stroke="#a6a6a6" stroke-width="1.3"/><text x="24.3" y="0" font-family="Liberation Sans" font-size="5" fill="none" stroke="#c8c8c8" stroke-width="0.4" textLength="16" lengthAdjust="spacingAndGlyphs">TECH</text></g><g transform="translate(141.5,284.3) rotate(-29)"><rect x="0" y="-4.8" width="17" height="4.8" fill="none" stroke="#a9a9a9" stroke-width="1"/><text x="1.4" y="-1" font-family="Liberation Sans" font-weight="bold" font-size="4.3" fill="#aeaeae" stroke="#aeaeae" stroke-width="0.3" textLength="14.2" lengthAdjust="spacingAndGlyphs">STOP</text><circle cx="21.3" cy="-2.1" r="2.3" fill="none" stroke="#a6a6a6" stroke-width="1.3"/><text x="24.3" y="0" font-family="Liberation Sans" font-size="5" fill="none" stroke="#c8c8c8" stroke-width="0.4" textLength="16" lengthAdjust="spacingAndGlyphs">TECH</text></g><g transform="translate(168.7,283.5) rotate(-29)"><rect x="0" y="-4.8" width="17" height="4.8" fill="none" stroke="#a9a9a9" stroke-width="1"/><text x="1.4" y="-1" font-family="Liberation Sans" font-weight="bold" font-size="4.3" fill="#aeaeae" stroke="#aeaeae" stroke-width="0.3" textLength="14.2" lengthAdjust="spacingAndGlyphs">STOP</text><circle cx="21.3" cy="-2.1" r="2.3" fill="none" stroke="#a6a6a6" stroke-width="1.3"/><text x="24.3" y="0" font-family="Liberation Sans" font-size="5" fill="none" stroke="#c8c8c8" stroke-width="0.4" textLength="16" lengthAdjust="spacingAndGlyphs">TECH</text></g><g transform="translate(195.9,282.7) rotate(-29)"><rect x="0" y="-4.8" width="17" height="4.8" fill="none" stroke="#a9a9a9" stroke-width="1"/><text x="1.4" y="-1" font-family="Liberation Sans" font-weight="bold" font-size="4.3" fill="#aeaeae" stroke="#aeaeae" stroke-width="0.3" textLength="14.2" lengthAdjust="spacingAndGlyphs">STOP</text><circle cx="21.3" cy="-2.1" r="2.3" fill="none" stroke="#a6a6a6" stroke-width="1.3"/><text x="24.3" y="0" font-family="Liberation Sans" font-size="5" fill="none" stroke="#c8c8c8" stroke-width="0.4" textLength="16" lengthAdjust="spacingAndGlyphs">TECH</text></g><g transform="translate(223.1,281.9) rotate(-29)"><rect x="0" y="-4.8" width="17" height="4.8" fill="none" stroke="#a9a9a9" stroke-width="1"/><text x="1.4" y="-1" font-family="Liberation Sans" font-weight="bold" font-size="4.3" fill="#aeaeae" stroke="#aeaeae" stroke-width="0.3" textLength="14.2" lengthAdjust="spacingAndGlyphs">STOP</text><circle cx="21.3" cy="-2.1" r="2.3" fill="none" stroke="#a6a6a6" stroke-width="1.3"/><text x="24.3" y="0" font-family="Liberation Sans" font-size="5" fill="none" stroke="#c8c8c8" stroke-width="0.4" textLength="16" lengthAdjust="spacingAndGlyphs">TECH</text></g><g transform="translate(250.3,281.1) rotate(-29)"><rect x="0" y="-4.8" width="17" height="4.8" fill="none" stroke="#a9a9a9" stroke-width="1"/><text x="1.4" y="-1" font-family="Liberation Sans" font-weight="bold" font-size="4.3" fill="#aeaeae" stroke="#aeaeae" stroke-width="0.3" textLength="14.2" lengthAdjust="spacingAndGlyphs">STOP</text><circle cx="21.3" cy="-2.1" r="2.3" fill="none" stroke="#a6a6a6" stroke-width="1.3"/><text x="24.3" y="0" font-family="Liberation Sans" font-size="5" fill="none" stroke="#c8c8c8" stroke-width="0.4" textLength="16" lengthAdjust="spacingAndGlyphs">TECH</text></g><g transform="translate(277.5,280.3) rotate(-29)"><rect x="0" y="-4.8" width="17" height="4.8" fill="none" stroke="#a9a9a9" stroke-width="1"/><text x="1.4" y="-1" font-family="Liberation Sans" font-weight="bold" font-size="4.3" fill="#aeaeae" stroke="#aeaeae" stroke-width="0.3" textLength="14.2" lengthAdjust="spacingAndGlyphs">STOP</text><circle cx="21.3" cy="-2.1" r="2.3" fill="none" stroke="#a6a6a6" stroke-width="1.3"/><text x="24.3" y="0" font-family="Liberation Sans" font-size="5" fill="none" stroke="#c8c8c8" stroke-width="0.4" textLength="16" lengthAdjust="spacingAndGlyphs">TECH</text></g><g transform="translate(304.7,279.5) rotate(-29)"><rect x="0" y="-4.8" width="17" height="4.8" fill="none" stroke="#a9a9a9" stroke-width="1"/><text x="1.4" y="-1" font-family="Liberation Sans" font-weight="bold" font-size="4.3" fill="#aeaeae" stroke="#aeaeae" stroke-width="0.3" textLength="14.2" lengthAdjust="spacingAndGlyphs">STOP</text><circle cx="21.3" cy="-2.1" r="2.3" fill="none" stroke="#a6a6a6" stroke-width="1.3"/><text x="24.3" y="0" font-family="Liberation Sans" font-size="5" fill="none" stroke="#c8c8c8" stroke-width="0.4" textLength="16" lengthAdjust="spacingAndGlyphs">TECH</text></g><g transform="translate(126.8,307.1) rotate(-29)"><rect x="0" y="-4.8" width="17" height="4.8" fill="none" stroke="#a9a9a9" stroke-width="1"/><text x="1.4" y="-1" font-family="Liberation Sans" font-weight="bold" font-size="4.3" fill="#aeaeae" stroke="#aeaeae" stroke-width="0.3" textLength="14.2" lengthAdjust="spacingAndGlyphs">STOP</text><circle cx="21.3" cy="-2.1" r="2.3" fill="none" stroke="#a6a6a6" stroke-width="1.3"/><text x="24.3" y="0" font-family="Liberation Sans" font-size="5" fill="none" stroke="#c8c8c8" stroke-width="0.4" textLength="16" lengthAdjust="spacingAndGlyphs">TECH</text></g><g transform="translate(154.0,306.3) rotate(-29)"><rect x="0" y="-4.8" width="17" height="4.8" fill="none" stroke="#a9a9a9" stroke-width="1"/><text x="1.4" y="-1" font-family="Liberation Sans" font-weight="bold" font-size="4.3" fill="#aeaeae" stroke="#aeaeae" stroke-width="0.3" textLength="14.2" lengthAdjust="spacingAndGlyphs">STOP</text><circle cx="21.3" cy="-2.1" r="2.3" fill="none" stroke="#a6a6a6" stroke-width="1.3"/><text x="24.3" y="0" font-family="Liberation Sans" font-size="5" fill="none" stroke="#c8c8c8" stroke-width="0.4" textLength="16" lengthAdjust="spacingAndGlyphs">TECH</text></g><g transform="translate(181.2,305.5) rotate(-29)"><rect x="0" y="-4.8" width="17" height="4.8" fill="none" stroke="#a9a9a9" stroke-width="1"/><text x="1.4" y="-1" font-family="Liberation Sans" font-weight="bold" font-size="4.3" fill="#aeaeae" stroke="#aeaeae" stroke-width="0.3" textLength="14.2" lengthAdjust="spacingAndGlyphs">STOP</text><circle cx="21.3" cy="-2.1" r="2.3" fill="none" stroke="#a6a6a6" stroke-width="1.3"/><text x="24.3" y="0" font-family="Liberation Sans" font-size="5" fill="none" stroke="#c8c8c8" stroke-width="0.4" textLength="16" lengthAdjust="spacingAndGlyphs">TECH</text></g><g transform="translate(208.4,304.7) rotate(-29)"><rect x="0" y="-4.8" width="17" height="4.8" fill="none" stroke="#a9a9a9" stroke-width="1"/><text x="1.4" y="-1" font-family="Liberation Sans" font-weight="bold" font-size="4.3" fill="#aeaeae" stroke="#aeaeae" stroke-width="0.3" textLength="14.2" lengthAdjust="spacingAndGlyphs">STOP</text><circle cx="21.3" cy="-2.1" r="2.3" fill="none" stroke="#a6a6a6" stroke-width="1.3"/><text x="24.3" y="0" font-family="Liberation Sans" font-size="5" fill="none" stroke="#c8c8c8" stroke-width="0.4" textLength="16" lengthAdjust="spacingAndGlyphs">TECH</text></g><g transform="translate(235.6,303.9) rotate(-29)"><rect x="0" y="-4.8" width="17" height="4.8" fill="none" stroke="#a9a9a9" stroke-width="1"/><text x="1.4" y="-1" font-family="Liberation Sans" font-weight="bold" font-size="4.3" fill="#aeaeae" stroke="#aeaeae" stroke-width="0.3" textLength="14.2" lengthAdjust="spacingAndGlyphs">STOP</text><circle cx="21.3" cy="-2.1" r="2.3" fill="none" stroke="#a6a6a6" stroke-width="1.3"/><text x="24.3" y="0" font-family="Liberation Sans" font-size="5" fill="none" stroke="#c8c8c8" stroke-width="0.4" textLength="16" lengthAdjust="spacingAndGlyphs">TECH</text></g><g transform="translate(262.8,303.1) rotate(-29)"><rect x="0" y="-4.8" width="17" height="4.8" fill="none" stroke="#a9a9a9" stroke-width="1"/><text x="1.4" y="-1" font-family="Liberation Sans" font-weight="bold" font-size="4.3" fill="#aeaeae" stroke="#aeaeae" stroke-width="0.3" textLength="14.2" lengthAdjust="spacingAndGlyphs">STOP</text><circle cx="21.3" cy="-2.1" r="2.3" fill="none" stroke="#a6a6a6" stroke-width="1.3"/><text x="24.3" y="0" font-family="Liberation Sans" font-size="5" fill="none" stroke="#c8c8c8" stroke-width="0.4" textLength="16" lengthAdjust="spacingAndGlyphs">TECH</text></g><g transform="translate(290.0,302.3) rotate(-29)"><rect x="0" y="-4.8" width="17" height="4.8" fill="none" stroke="#a9a9a9" stroke-width="1"/><text x="1.4" y="-1" font-family="Liberation Sans" font-weight="bold" font-size="4.3" fill="#aeaeae" stroke="#aeaeae" stroke-width="0.3" textLength="14.2" lengthAdjust="spacingAndGlyphs">STOP</text><circle cx="21.3" cy="-2.1" r="2.3" fill="none" stroke="#a6a6a6" stroke-width="1.3"/><text x="24.3" y="0" font-family="Liberation Sans" font-size="5" fill="none" stroke="#c8c8c8" stroke-width="0.4" textLength="16" lengthAdjust="spacingAndGlyphs">TECH</text></g><g transform="translate(317.2,301.5) rotate(-29)"><rect x="0" y="-4.8" width="17" height="4.8" fill="none" stroke="#a9a9a9" stroke-width="1"/><text x="1.4" y="-1" font-family="Liberation Sans" font-weight="bold" font-size="4.3" fill="#aeaeae" stroke="#aeaeae" stroke-width="0.3" textLength="14.2" lengthAdjust="spacingAndGlyphs">STOP</text><circle cx="21.3" cy="-2.1" r="2.3" fill="none" stroke="#a6a6a6" stroke-width="1.3"/><text x="24.3" y="0" font-family="Liberation Sans" font-size="5" fill="none" stroke="#c8c8c8" stroke-width="0.4" textLength="16" lengthAdjust="spacingAndGlyphs">TECH</text></g></g>
<g fill="none" stroke="#5c5c5c" stroke-width="1"><path d="M137.5,225 L137.5,234.5 L127.5,234.5 L127.5,243.5 L134.5,243.5 L134.5,266.5 Q134.5,269.5 137.5,269.5 L162,269.5 L168.5,280.2 L200.9,280.2 L201.5,282 Q234.5,278.5 267.5,282 L268.1,280.2 L300.5,280.2 L307,269.5 L331.5,269.5 Q334.5,269.5 334.5,266.5 L334.5,243.5 L341.5,243.5 L341.5,234.5 L331,234.5 L331,225 Q331,223.3 328.8,222.6 A208,208 0 0 0 140.2,222.6 Q137.5,223.3 137.5,225 Z"/><path d="M156.6,256 L156.6,219.3 Q156.6,217.6 158.4,217.2 A207.6,207.6 0 0 1 310.4,217.2 Q312.2,217.6 312.2,219.3 L312.2,256.5 L298.8,277.9 L170.1,277.9 Z"/><path d="M231.5,200.5 L231.5,277.9 M236.5,200.5 L236.5,277.9"/></g>
<g fill="#fff" stroke="#8a8a8a" stroke-width="0.9"><g transform="translate(162.5,279.7) rotate(-32.6)"><rect x="-3.75" y="-7.9" width="7.5" height="15.8"/><path d="M0.8,-7.5 L0.8,7.5 M1.9,-7.5 L1.9,7.5 M3,-7.5 L3,7.5" stroke="#9a9a9a" stroke-width="0.7"/></g><g transform="translate(306,279.6) rotate(32.6)"><rect x="-3.75" y="-7.9" width="7.5" height="15.8"/><path d="M-0.8,-7.5 L-0.8,7.5 M-1.9,-7.5 L-1.9,7.5 M-3,-7.5 L-3,7.5" stroke="#9a9a9a" stroke-width="0.7"/></g></g>
<path d="M250,190 L222,290" stroke="#cfcfcf" stroke-width="0.8" fill="none"/>
<g clip-path="url(#sc)"><g transform="translate(133.1,364) rotate(-29)"><rect x="0" y="-4.8" width="17" height="4.8" fill="none" stroke="#a9a9a9" stroke-width="1"/><text x="1.4" y="-1" font-family="Liberation Sans" font-weight="bold" font-size="4.3" fill="#aeaeae" stroke="#aeaeae" stroke-width="0.3" textLength="14.2" lengthAdjust="spacingAndGlyphs">STOP</text><circle cx="21.3" cy="-2.1" r="2.3" fill="none" stroke="#a6a6a6" stroke-width="1.3"/><text x="24.3" y="0" font-family="Liberation Sans" font-size="5" fill="none" stroke="#c8c8c8" stroke-width="0.4" textLength="16" lengthAdjust="spacingAndGlyphs">TECH</text></g><g transform="translate(160.5,364) rotate(-29)"><rect x="0" y="-4.8" width="17" height="4.8" fill="none" stroke="#a9a9a9" stroke-width="1"/><text x="1.4" y="-1" font-family="Liberation Sans" font-weight="bold" font-size="4.3" fill="#aeaeae" stroke="#aeaeae" stroke-width="0.3" textLength="14.2" lengthAdjust="spacingAndGlyphs">STOP</text><circle cx="21.3" cy="-2.1" r="2.3" fill="none" stroke="#a6a6a6" stroke-width="1.3"/><text x="24.3" y="0" font-family="Liberation Sans" font-size="5" fill="none" stroke="#c8c8c8" stroke-width="0.4" textLength="16" lengthAdjust="spacingAndGlyphs">TECH</text></g><g transform="translate(187.9,364) rotate(-29)"><rect x="0" y="-4.8" width="17" height="4.8" fill="none" stroke="#a9a9a9" stroke-width="1"/><text x="1.4" y="-1" font-family="Liberation Sans" font-weight="bold" font-size="4.3" fill="#aeaeae" stroke="#aeaeae" stroke-width="0.3" textLength="14.2" lengthAdjust="spacingAndGlyphs">STOP</text><circle cx="21.3" cy="-2.1" r="2.3" fill="none" stroke="#a6a6a6" stroke-width="1.3"/><text x="24.3" y="0" font-family="Liberation Sans" font-size="5" fill="none" stroke="#c8c8c8" stroke-width="0.4" textLength="16" lengthAdjust="spacingAndGlyphs">TECH</text></g><g transform="translate(215.3,364) rotate(-29)"><rect x="0" y="-4.8" width="17" height="4.8" fill="none" stroke="#a9a9a9" stroke-width="1"/><text x="1.4" y="-1" font-family="Liberation Sans" font-weight="bold" font-size="4.3" fill="#aeaeae" stroke="#aeaeae" stroke-width="0.3" textLength="14.2" lengthAdjust="spacingAndGlyphs">STOP</text><circle cx="21.3" cy="-2.1" r="2.3" fill="none" stroke="#a6a6a6" stroke-width="1.3"/><text x="24.3" y="0" font-family="Liberation Sans" font-size="5" fill="none" stroke="#c8c8c8" stroke-width="0.4" textLength="16" lengthAdjust="spacingAndGlyphs">TECH</text></g><g transform="translate(242.7,364) rotate(-29)"><rect x="0" y="-4.8" width="17" height="4.8" fill="none" stroke="#a9a9a9" stroke-width="1"/><text x="1.4" y="-1" font-family="Liberation Sans" font-weight="bold" font-size="4.3" fill="#aeaeae" stroke="#aeaeae" stroke-width="0.3" textLength="14.2" lengthAdjust="spacingAndGlyphs">STOP</text><circle cx="21.3" cy="-2.1" r="2.3" fill="none" stroke="#a6a6a6" stroke-width="1.3"/><text x="24.3" y="0" font-family="Liberation Sans" font-size="5" fill="none" stroke="#c8c8c8" stroke-width="0.4" textLength="16" lengthAdjust="spacingAndGlyphs">TECH</text></g><g transform="translate(270.1,364) rotate(-29)"><rect x="0" y="-4.8" width="17" height="4.8" fill="none" stroke="#a9a9a9" stroke-width="1"/><text x="1.4" y="-1" font-family="Liberation Sans" font-weight="bold" font-size="4.3" fill="#aeaeae" stroke="#aeaeae" stroke-width="0.3" textLength="14.2" lengthAdjust="spacingAndGlyphs">STOP</text><circle cx="21.3" cy="-2.1" r="2.3" fill="none" stroke="#a6a6a6" stroke-width="1.3"/><text x="24.3" y="0" font-family="Liberation Sans" font-size="5" fill="none" stroke="#c8c8c8" stroke-width="0.4" textLength="16" lengthAdjust="spacingAndGlyphs">TECH</text></g><g transform="translate(297.5,364) rotate(-29)"><rect x="0" y="-4.8" width="17" height="4.8" fill="none" stroke="#a9a9a9" stroke-width="1"/><text x="1.4" y="-1" font-family="Liberation Sans" font-weight="bold" font-size="4.3" fill="#aeaeae" stroke="#aeaeae" stroke-width="0.3" textLength="14.2" lengthAdjust="spacingAndGlyphs">STOP</text><circle cx="21.3" cy="-2.1" r="2.3" fill="none" stroke="#a6a6a6" stroke-width="1.3"/><text x="24.3" y="0" font-family="Liberation Sans" font-size="5" fill="none" stroke="#c8c8c8" stroke-width="0.4" textLength="16" lengthAdjust="spacingAndGlyphs">TECH</text></g><g transform="translate(324.9,364) rotate(-29)"><rect x="0" y="-4.8" width="17" height="4.8" fill="none" stroke="#a9a9a9" stroke-width="1"/><text x="1.4" y="-1" font-family="Liberation Sans" font-weight="bold" font-size="4.3" fill="#aeaeae" stroke="#aeaeae" stroke-width="0.3" textLength="14.2" lengthAdjust="spacingAndGlyphs">STOP</text><circle cx="21.3" cy="-2.1" r="2.3" fill="none" stroke="#a6a6a6" stroke-width="1.3"/><text x="24.3" y="0" font-family="Liberation Sans" font-size="5" fill="none" stroke="#c8c8c8" stroke-width="0.4" textLength="16" lengthAdjust="spacingAndGlyphs">TECH</text></g></g>
<g fill="none" stroke="#5c5c5c" stroke-width="1"><path d="M240.5,339.4 L341.1,339.4 L341.1,349.1 L126.9,349.1 L126.9,339.4 L238.5,339.4"/><path d="M137.4,339.4 L137.4,349.1 M330.7,339.4 L330.7,349.1 M227.8,339.4 L227.8,349.1 M241.6,339.4 L241.6,349.1"/><path d="M156.5,349.1 L156.5,363.5 L230.6,363.5 L230.6,357 L233,353 M235.4,356 L235.4,363.5 L312,363.5 L312,349.1"/><path d="M159.7,339.4 L159.7,318.4 Q154.8,312 154.8,306 L154.8,301.6 Q154.8,298.4 158.3,298.4 L169,298.4 Q171.7,298.4 171.7,302.4 L171.7,339.4"/><rect x="169.9" y="335.3" width="6.9" height="4.1"/><path d="M308.6,339.4 L308.6,319.3 Q313.9,312 313.9,306 L313.9,302.4 Q313.9,298.4 310.8,298.4 L301.9,298.4 Q297.4,298.4 297.4,302 L297.4,339.4"/><rect x="292.3" y="335.3" width="6.7" height="4.1"/></g>
<path d="M163.7,339 L163.7,302 M306.3,339 L306.3,302" stroke="#b0b0b0" stroke-width="1.6" fill="none"/>
<path d="M242,334 L229,372" stroke="#cfcfcf" stroke-width="0.8" fill="none"/>
</svg>
<!-- /drawing -->
<!-- photos -->
<svg width="800" height="619" viewBox="0 0 800 619">
<defs>
<linearGradient id="gfr" x1="0" y1="0" x2="0.3" y2="1"><stop offset="0" stop-color="#cbcbcb"/><stop offset="1" stop-color="#b2b2b2"/></linearGradient>
<linearGradient id="gdk" x1="0" y1="0" x2="0" y2="1"><stop offset="0" stop-color="#45484c"/><stop offset="1" stop-color="#34373a"/></linearGradient>
</defs>
<!-- Pad A (top middle, backing up, sensor) -->
<path d="M440.3,116.8 L442,115.3 L452,114.4 L462,115.8 L480,119 L485,121 L489.5,124 L488.5,126.3 L490.3,127.5 L489.5,130.3 L486,131.3 L481.5,132.3 L475,132.3 L462,129.5 L447.5,125.5 L443.5,121.5 L441,119 Z" fill="#35383c"/>
<path d="M440.3,116.8 L442,115.3 L452,114.4 L462,115.8 L480,119 L485,121 L489.5,124 L488.5,126.3 L483,127.2 L470,124.8 L455,121.5 L444.5,119.8 L441,118.5 Z" fill="#5f6367"/>
<path d="M452.6,104.5 L456.8,104.2 L457.4,116 L453.3,116.3 Z" fill="#9ea3a7"/>
<!-- Pad B (left, backing up) -->
<path d="M403.1,131.9 L407.5,129.3 L425,128.3 L442.5,132 L453.5,137.3 L456.3,140.3 L457.8,144.5 L455,147.5 L445,150.3 L436.3,152.8 L428.8,152.2 L410,144.5 L406.5,139 L403.1,134 Z" fill="#35383c"/>
<path d="M403.1,131.9 L407.5,129.3 L425,128.3 L442.5,132 L453.5,137.3 L456.3,140.3 L450,142.3 L440,141 L420,137.5 L407.5,135.5 L403.5,133.5 Z" fill="#565a5e"/>
<!-- Pad C (right, friction up) -->
<path d="M489,135.8 L493.5,134.3 L499.5,130.5 L510,129.3 L525,131.3 L549,135.8 L552.8,140.3 L555,142.5 L562.5,144 L563.3,149.3 L555,150.8 L546,151.5 L513,147.8 L495,142.5 L489.8,138.8 Z" fill="#3c3f43"/>
<path d="M494.3,134.3 L499.5,130.5 L510,129.3 L525,131.3 L549,135.8 L552.8,140.3 L550.5,142.5 L534,141.8 L516,139.5 L499.5,138 Z" fill="#8c8b87"/>
<path d="M526.5,132 L516,139.5" stroke="#6a6a66" stroke-width="1" fill="none"/>
<!-- Pad D (bottom middle, friction up) -->
<path d="M455.9,153.4 L463,149.3 L473.75,145.1 L485.6,145.7 L501,149.9 L516.5,155.8 L526,161.2 L528.4,165.3 L529.6,168.3 L534.3,172.4 L535.5,176 L528.4,179.2 L521.3,178.6 L491.6,172.4 L461.9,161.75 L456.5,157 Z" fill="#393c40"/>
<path d="M463.5,150 Q465,146 473.75,145.1 L485.6,145.7 L501,149.9 L516.5,155.8 L526,161.2 L528.4,165.3 L527.2,168.9 L486,161.8 L464.5,157 Z" fill="#8c8b87"/>
<path d="M501,150.5 L485.6,161.2" stroke="#6a6a66" stroke-width="1" fill="none"/>
<!-- Right: top dark pad -->
<path d="M586.9,117.9 L591,114.4 L605.5,113 L639.8,113 L649.4,114.4 L652.9,118.5 L659.7,119.2 L660.4,127.5 L662.5,128.2 L662.5,130.9 L659.7,131.6 L654.9,135.7 L639.8,140.5 L623.3,142.6 L605.5,140.5 L593.1,135.7 L588.3,131.6 L584.2,130.9 L584.2,127.5 L586.2,126.8 Z" fill="url(#gdk)" stroke="#3c3f43" stroke-width="1.2" stroke-linejoin="round"/>
<path d="M593.5,110 L598.5,109 L604.5,113 L604.5,118.5 L597.5,118 L595,114 Z" fill="#eeeeee" stroke="#9a9a9a" stroke-width="0.7"/><circle cx="601" cy="115.5" r="1.6" fill="none" stroke="#888" stroke-width="0.6"/>
<!-- Right: bottom dark pad -->
<path d="M584.9,159.8 L587.6,159.8 L589.7,154.9 L598.6,151.5 L623.3,147.4 L643.9,150.1 L656.3,154.9 L659,159.8 L661.8,159.8 L661.8,163.2 L659,163.2 L658.4,171.4 L654.2,174.9 L643.9,176.2 L600,176.2 L597.2,174.2 L588.3,170.7 L586.9,163.2 L584.9,163.2 Z" fill="url(#gdk)" stroke="#3c3f43" stroke-width="1.2" stroke-linejoin="round"/>
<!-- Right: top gray pad -->
<path d="M668.9,119.9 L741,119.9 L741,128.2 L743.8,128.2 L743.8,130.9 L741,130.9 L740.4,134.3 L732.1,137.1 L704.6,142 L673.7,136.4 L669.6,133.7 L669.6,130.9 L666.2,130.9 L666.2,128.2 L668.9,128.2 Z" fill="#474a4f"/>
<path d="M679.9,114.4 L728.7,114.4 L732.1,118.5 L734.2,127.5 L731.4,134.3 L720.4,141.2 L704.6,144 L687.5,141.2 L677.9,135 L675.8,127.5 L677.2,119.2 Z" fill="url(#gfr)" stroke="#5a5c60" stroke-width="0.5"/>
<rect x="704" y="114" width="1.6" height="30" fill="#2a2a2a"/>
<!-- Right: bottom gray pad -->
<path d="M666.9,159.8 L671,154.9 L677.9,152.9 L704.6,148 L734.2,152.9 L740.4,156.3 L740.4,159.8 L743.8,159.8 L743.8,163.2 L740.4,163.2 L740.4,170.7 L736.2,172.1 L670.3,171.4 L669.6,163.2 L666.9,163.2 Z" fill="#474a4f"/>
<path d="M675.8,155.6 L687.5,150.1 L704.6,147.4 L720.4,149.5 L734.2,156.3 L734.9,168.7 L731.4,176.2 L680.6,176.2 L676.5,168.7 Z" fill="url(#gfr)" stroke="#5a5c60" stroke-width="0.5"/>
<rect x="704" y="147.4" width="1.6" height="29" fill="#2a2a2a"/>

<!-- Side view photo -->
<path d="M434,272 Q431.4,272 431.4,275.5 L431.4,283 Q431.6,287 434.8,290 L434.8,298.6 L441.7,298.6 L441.7,275 Q441.7,272 438.5,272 Z" fill="#e6e6e6" stroke="#b5b5b5" stroke-width="0.7"/><path d="M435.5,289 L435.5,298.6" stroke="#777" stroke-width="1"/><path d="M433.5,276 Q436,272.5 438.5,276 L438.5,285" fill="none" stroke="#c8c8c8" stroke-width="0.8"/>
<rect x="405.7" y="298.5" width="157.3" height="7.5" fill="#393c40"/>
<rect x="425.5" y="306" width="117.5" height="11.6" fill="#414447"/>
<rect x="418" y="299" width="112" height="1.3" fill="#5e6164"/>
<rect x="522.5" y="296.5" width="3" height="2.2" fill="#3a3a3a"/>
<rect x="482.3" y="310.3" width="2.6" height="7.4" fill="#fff"/>
<rect x="403" y="322.7" width="160" height="7.5" fill="#393c40"/>
<rect x="423.2" y="329.8" width="119.8" height="11.4" fill="#414447"/>
<rect x="410" y="323.2" width="118" height="1.3" fill="#5e6164"/>
<rect x="481.8" y="334" width="2.6" height="7.3" fill="#fff"/>
</svg>

<!-- title bar -->
<div class="bar" style="left:39px;top:21px;width:723px;height:33px;"></div>
<div class="t w" style="left:51px;top:20.5px;font-size:32px;transform:scaleX(0.775);">309.08290</div>
<div class="t w" style="left:626px;top:21.5px;font-size:32px;transform:scaleX(0.773);">Brake Pad</div>

<!-- table headers -->
<div class="bar" style="left:39px;top:411px;width:344px;height:29px;"></div>
<div class="bar" style="left:387px;top:411px;width:210px;height:29px;"></div>
<div class="bar" style="left:600px;top:411px;width:162px;height:29px;"></div>
<div class="t w h" style="left:49px;">Inner Brake Pads Specs</div>
<div class="t w h" style="left:222px;">Outer Brake Pads Specs</div>
<div class="t w h" style="left:471px;">FMSI #</div>
<div class="t w h" style="left:639px;">Related Parts</div>

<!-- inner specs -->
<div class="r b" style="right:641.5px;top:444.6px;">Inner Pad Width:</div>
<div class="r b" style="right:641.5px;top:460.2px;">Inner Pad Height:</div>
<div class="r b" style="right:641.5px;top:475.8px;">Inner Pad Thk w/o Shim:</div>
<div class="r b" style="right:641.5px;top:491.4px;">Sensor Wire Length:</div>
<div class="t b v" style="left:161.8px;top:444.6px;">135.1</div>
<div class="t b v" style="left:161.8px;top:460.2px;">52.1</div>
<div class="t b v" style="left:161.8px;top:475.8px;">15.8</div>
<!-- outer specs -->
<div class="r b ol" style="right:466px;top:444.6px;">Outer Pad Width:</div>
<div class="r b ol" style="right:466px;top:460.2px;">Outer Pad Height:</div>
<div class="r b ol" style="right:466px;top:475.8px;">Outer Pad Thk w/o Shim:</div>
<div class="t b v" style="left:338.8px;top:444.6px;">135.1</div>
<div class="t b v" style="left:338.8px;top:460.2px;">52.1</div>
<div class="t b v" style="left:338.8px;top:475.8px;">15.8</div>

<!-- FMSI -->
<div class="t b" style="left:391.5px;top:444.6px;">FMSI:</div>
<div class="t b" style="left:391.5px;top:460.3px;">FMSI:</div>
<div class="t b" style="left:391.5px;top:476.0px;">FMSI:</div>
<div class="t b" style="left:391.5px;top:491.7px;">FMSI:</div>
<div class="t b" style="left:391.5px;top:507.4px;">FMSI:</div>
<div class="t b" style="left:391.5px;top:523.1px;">FMSI:</div>
<div class="t b" style="left:391.5px;top:538.8px;">FMSI:</div>
<div class="t b" style="left:495.5px;top:444.6px;">FMSI:</div>
<div class="t b" style="left:495.5px;top:460.3px;">FMSI:</div>
<div class="t b" style="left:495.5px;top:476.0px;">FMSI:</div>
<div class="t b" style="left:495.5px;top:491.7px;">FMSI:</div>
<div class="t b" style="left:495.5px;top:507.4px;">FMSI:</div>
<div class="t b" style="left:495.5px;top:523.1px;">FMSI:</div>
<div class="t b" style="left:495.5px;top:538.8px;">FMSI:</div>

<div class="t b fv" style="left:423.5px;top:444.6px;">7702D829</div>
<div class="t b fv" style="left:423.5px;top:460.3px;">D829</div>
<!-- related -->
<div class="t b" style="left:603.5px;top:444.6px;">Hardware Kit #:</div>

<!-- notes -->
<svg width="800" height="619" viewBox="0 0 800 619">
<defs><linearGradient id="tri" x1="0" y1="0" x2="0" y2="1"><stop offset="0" stop-color="#fdf3f3"/><stop offset="1" stop-color="#f6e3e3"/></linearGradient>
<linearGradient id="tris" x1="0" y1="0" x2="0" y2="1"><stop offset="0" stop-color="#de6b6b"/><stop offset="1" stop-color="#b42a26"/></linearGradient></defs>
<path d="M68,557.8 L79,576.8 L57,576.8 Z" fill="url(#tri)" stroke="url(#tris)" stroke-width="2.7" stroke-linejoin="round"/>
<path d="M67.2,563.6 L68.9,563.6 L68.6,571.4 L67.5,571.4 Z" fill="#111"/>
<rect x="67.2" y="572.4" width="1.7" height="1.7" fill="#111"/>
</svg>
<div class="t" style="left:96px;top:554.5px;font-size:14.5px;transform:scaleX(0.855);-webkit-text-stroke:0.2px #111;">Note 1:</div>
<div class="t" style="left:96px;top:573.5px;font-size:14.5px;transform:scaleX(0.855);-webkit-text-stroke:0.2px #111;">Note 2:</div>
<div class="t" style="left:145px;top:556.2px;font-size:14.5px;transform:scaleX(0.862);color:#cf3535;-webkit-text-stroke:0.15px #cf3535;">2 Pads with a wear sensor</div>

</body></html>
